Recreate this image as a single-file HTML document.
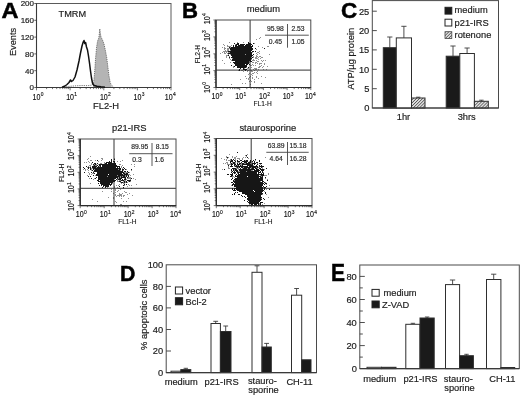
<!DOCTYPE html>
<html><head><meta charset="utf-8"><title>Figure</title>
<style>html,body{margin:0;padding:0;background:#fff;}svg{display:block;filter:blur(0.3px);font-family:"Liberation Sans",sans-serif;}</style>
</head><body>
<svg width="520" height="395" viewBox="0 0 520 395">
<rect width="520" height="395" fill="#fff"/>
<text x="1.5" y="18.3" font-size="22.5" text-anchor="start" font-weight="bold" fill="#000" stroke="#000" stroke-width="0.5" textLength="17" lengthAdjust="spacingAndGlyphs">A</text>
<path d="M93.0 87.5 L94.0 80.0 L94.8 70.0 L95.6 58.0 L96.6 47.0 L97.6 41.0 L98.8 38.0 L99.4 33.0 L99.8 28.8 L100.3 33.0 L101.0 37.0 L102.5 40.0 L104.0 44.0 L105.5 51.0 L106.8 58.0 L108.0 68.0 L109.0 76.0 L110.3 83.0 L112.0 87.5Z" fill="#b4b4b4" stroke="none"/>
<path d="M64 87 L70 86.3 L76 85.8 L82 85.5 L88 85.6 L92.5 85 L94.0 80.0 L94.8 70.0 L95.6 58.0 L96.6 47.0 L97.6 41.0 L98.8 38.0 L99.4 33.0 L99.8 28.8 L100.3 33.0 L101.0 37.0 L102.5 40.0 L104.0 44.0 L105.5 51.0 L106.8 58.0 L108.0 68.0 L109.0 76.0 L110.3 83.0 L113 87" fill="none" stroke="#555" stroke-width="0.8" stroke-dasharray="1.2 1"/>
<rect x="36.5" y="3.5" width="134.5" height="84.0" fill="none" stroke="#5a5a5a" stroke-width="1"/>
<line x1="36.5" y1="3.5" x2="36.5" y2="87.5" stroke="#3a3a3a" stroke-width="1.1"/>
<line x1="36.5" y1="87.5" x2="171.0" y2="87.5" stroke="#3a3a3a" stroke-width="1.1"/>
<path d="M62.0 87.3 L65.0 86.0 L67.0 84.5 L69.0 82.5 L70.5 80.0 L71.5 81.5 L73.0 80.5 L75.0 77.0 L77.0 70.0 L79.0 61.0 L80.5 53.0 L82.0 46.0 L83.2 42.0 L84.0 40.5 L84.8 43.5 L85.6 42.5 L86.5 47.0 L87.5 50.0 L88.5 56.0 L89.5 63.0 L90.5 71.0 L91.5 78.0 L92.5 83.0 L94.0 85.5 L97.0 86.3 L101.0 86.8 L105.0 87.2" fill="none" stroke="#111" stroke-width="1.5" stroke-linejoin="round"/>
<line x1="34.3" y1="3.5" x2="36.5" y2="3.5" stroke="#3a3a3a" stroke-width="0.8"/>
<text x="34.0" y="6.4" font-size="8" text-anchor="end" font-weight="normal" fill="#1c1c1c" stroke="#1c1c1c" stroke-width="0.18">200</text>
<line x1="34.3" y1="20.3" x2="36.5" y2="20.3" stroke="#3a3a3a" stroke-width="0.8"/>
<text x="34.0" y="23.2" font-size="8" text-anchor="end" font-weight="normal" fill="#1c1c1c" stroke="#1c1c1c" stroke-width="0.18">160</text>
<line x1="34.3" y1="37.1" x2="36.5" y2="37.1" stroke="#3a3a3a" stroke-width="0.8"/>
<text x="34.0" y="40.0" font-size="8" text-anchor="end" font-weight="normal" fill="#1c1c1c" stroke="#1c1c1c" stroke-width="0.18">120</text>
<line x1="34.3" y1="53.9" x2="36.5" y2="53.9" stroke="#3a3a3a" stroke-width="0.8"/>
<text x="34.0" y="56.8" font-size="8" text-anchor="end" font-weight="normal" fill="#1c1c1c" stroke="#1c1c1c" stroke-width="0.18">80</text>
<line x1="34.3" y1="70.7" x2="36.5" y2="70.7" stroke="#3a3a3a" stroke-width="0.8"/>
<text x="34.0" y="73.6" font-size="8" text-anchor="end" font-weight="normal" fill="#1c1c1c" stroke="#1c1c1c" stroke-width="0.18">40</text>
<line x1="34.3" y1="87.5" x2="36.5" y2="87.5" stroke="#3a3a3a" stroke-width="0.8"/>
<text x="34.0" y="90.4" font-size="8" text-anchor="end" font-weight="normal" fill="#1c1c1c" stroke="#1c1c1c" stroke-width="0.18">0</text>
<text x="15.8" y="42.0" font-size="9.2" text-anchor="middle" font-weight="normal" fill="#1c1c1c" transform="rotate(-90 15.8 42.0)" stroke="#1c1c1c" stroke-width="0.18">Events</text>
<line x1="36.5" y1="87.5" x2="36.5" y2="90.3" stroke="#3a3a3a" stroke-width="0.7"/>
<line x1="46.6" y1="87.5" x2="46.6" y2="89.1" stroke="#3a3a3a" stroke-width="0.7"/>
<line x1="52.5" y1="87.5" x2="52.5" y2="89.1" stroke="#3a3a3a" stroke-width="0.7"/>
<line x1="56.7" y1="87.5" x2="56.7" y2="89.1" stroke="#3a3a3a" stroke-width="0.7"/>
<line x1="60.0" y1="87.5" x2="60.0" y2="89.1" stroke="#3a3a3a" stroke-width="0.7"/>
<line x1="62.7" y1="87.5" x2="62.7" y2="89.1" stroke="#3a3a3a" stroke-width="0.7"/>
<line x1="64.9" y1="87.5" x2="64.9" y2="89.1" stroke="#3a3a3a" stroke-width="0.7"/>
<line x1="66.9" y1="87.5" x2="66.9" y2="89.1" stroke="#3a3a3a" stroke-width="0.7"/>
<line x1="68.6" y1="87.5" x2="68.6" y2="89.1" stroke="#3a3a3a" stroke-width="0.7"/>
<line x1="70.1" y1="87.5" x2="70.1" y2="90.3" stroke="#3a3a3a" stroke-width="0.7"/>
<line x1="80.2" y1="87.5" x2="80.2" y2="89.1" stroke="#3a3a3a" stroke-width="0.7"/>
<line x1="86.2" y1="87.5" x2="86.2" y2="89.1" stroke="#3a3a3a" stroke-width="0.7"/>
<line x1="90.4" y1="87.5" x2="90.4" y2="89.1" stroke="#3a3a3a" stroke-width="0.7"/>
<line x1="93.6" y1="87.5" x2="93.6" y2="89.1" stroke="#3a3a3a" stroke-width="0.7"/>
<line x1="96.3" y1="87.5" x2="96.3" y2="89.1" stroke="#3a3a3a" stroke-width="0.7"/>
<line x1="98.5" y1="87.5" x2="98.5" y2="89.1" stroke="#3a3a3a" stroke-width="0.7"/>
<line x1="100.5" y1="87.5" x2="100.5" y2="89.1" stroke="#3a3a3a" stroke-width="0.7"/>
<line x1="102.2" y1="87.5" x2="102.2" y2="89.1" stroke="#3a3a3a" stroke-width="0.7"/>
<line x1="103.8" y1="87.5" x2="103.8" y2="90.3" stroke="#3a3a3a" stroke-width="0.7"/>
<line x1="113.9" y1="87.5" x2="113.9" y2="89.1" stroke="#3a3a3a" stroke-width="0.7"/>
<line x1="119.8" y1="87.5" x2="119.8" y2="89.1" stroke="#3a3a3a" stroke-width="0.7"/>
<line x1="124.0" y1="87.5" x2="124.0" y2="89.1" stroke="#3a3a3a" stroke-width="0.7"/>
<line x1="127.3" y1="87.5" x2="127.3" y2="89.1" stroke="#3a3a3a" stroke-width="0.7"/>
<line x1="129.9" y1="87.5" x2="129.9" y2="89.1" stroke="#3a3a3a" stroke-width="0.7"/>
<line x1="132.2" y1="87.5" x2="132.2" y2="89.1" stroke="#3a3a3a" stroke-width="0.7"/>
<line x1="134.1" y1="87.5" x2="134.1" y2="89.1" stroke="#3a3a3a" stroke-width="0.7"/>
<line x1="135.8" y1="87.5" x2="135.8" y2="89.1" stroke="#3a3a3a" stroke-width="0.7"/>
<line x1="137.4" y1="87.5" x2="137.4" y2="90.3" stroke="#3a3a3a" stroke-width="0.7"/>
<line x1="147.5" y1="87.5" x2="147.5" y2="89.1" stroke="#3a3a3a" stroke-width="0.7"/>
<line x1="153.4" y1="87.5" x2="153.4" y2="89.1" stroke="#3a3a3a" stroke-width="0.7"/>
<line x1="157.6" y1="87.5" x2="157.6" y2="89.1" stroke="#3a3a3a" stroke-width="0.7"/>
<line x1="160.9" y1="87.5" x2="160.9" y2="89.1" stroke="#3a3a3a" stroke-width="0.7"/>
<line x1="163.5" y1="87.5" x2="163.5" y2="89.1" stroke="#3a3a3a" stroke-width="0.7"/>
<line x1="165.8" y1="87.5" x2="165.8" y2="89.1" stroke="#3a3a3a" stroke-width="0.7"/>
<line x1="167.7" y1="87.5" x2="167.7" y2="89.1" stroke="#3a3a3a" stroke-width="0.7"/>
<line x1="169.5" y1="87.5" x2="169.5" y2="89.1" stroke="#3a3a3a" stroke-width="0.7"/>
<line x1="171.0" y1="87.5" x2="171.0" y2="90.3" stroke="#3a3a3a" stroke-width="0.7"/>
<g transform="translate(36.5 99.5) scale(0.85 1)" fill="#111" stroke="#111" stroke-width="0.15"><text x="0" y="0" font-size="8.3" text-anchor="middle">10</text><text x="5.0" y="-3.5" font-size="5.8">0</text></g>
<g transform="translate(70.1 99.5) scale(0.85 1)" fill="#111" stroke="#111" stroke-width="0.15"><text x="0" y="0" font-size="8.3" text-anchor="middle">10</text><text x="5.0" y="-3.5" font-size="5.8">1</text></g>
<g transform="translate(103.8 99.5) scale(0.85 1)" fill="#111" stroke="#111" stroke-width="0.15"><text x="0" y="0" font-size="8.3" text-anchor="middle">10</text><text x="5.0" y="-3.5" font-size="5.8">2</text></g>
<g transform="translate(137.4 99.5) scale(0.85 1)" fill="#111" stroke="#111" stroke-width="0.15"><text x="0" y="0" font-size="8.3" text-anchor="middle">10</text><text x="5.0" y="-3.5" font-size="5.8">3</text></g>
<g transform="translate(168.7 99.5) scale(0.85 1)" fill="#111" stroke="#111" stroke-width="0.15"><text x="0" y="0" font-size="8.3" text-anchor="middle">10</text><text x="5.0" y="-3.5" font-size="5.8">4</text></g>
<text x="106.0" y="109.3" font-size="9.4" text-anchor="middle" font-weight="normal" fill="#1c1c1c" stroke="#1c1c1c" stroke-width="0.18">FL2-H</text>
<text x="58.6" y="17.2" font-size="9.2" text-anchor="start" font-weight="normal" fill="#1c1c1c" stroke="#1c1c1c" stroke-width="0.18">TMRM</text>
<text x="182.0" y="18.3" font-size="22.5" text-anchor="start" font-weight="bold" fill="#000" stroke="#000" stroke-width="0.5" textLength="16" lengthAdjust="spacingAndGlyphs">B</text>
<line x1="250.1" y1="20.0" x2="250.1" y2="87.5" stroke="#333" stroke-width="1"/>
<line x1="216.0" y1="70.1" x2="310.8" y2="70.1" stroke="#333" stroke-width="1"/>
<path d="M260 37.5h1M259 38.5h1M256 39.5h1M229 42.5h1M237 42.5h1M243 42.5h1M237 43.5h1M249 43.5h1M254 43.5h1M223 44.5h1M235 44.5h2M240 44.5h1M224 45.5h1M227 45.5h1M231 45.5h1M242 45.5h1M227 46.5h4M235 46.5h1M241 46.5h1M244 46.5h2M258 46.5h1M267 46.5h2M222 47.5h1M224 47.5h1M230 47.5h2M233 47.5h3M239 47.5h3M244 47.5h1M247 47.5h1M250 47.5h1M262 47.5h1M224 48.5h2M227 48.5h4M234 48.5h3M240 48.5h2M243 48.5h2M224 49.5h1M227 49.5h2M230 49.5h2M237 49.5h2M240 49.5h1M243 49.5h1M245 49.5h1M251 49.5h2M256 49.5h1M225 50.5h1M227 50.5h2M230 50.5h1M238 50.5h2M242 50.5h5M250 50.5h1M223 51.5h5M230 51.5h1M234 51.5h1M243 51.5h1M247 51.5h1M259 51.5h1M222 52.5h1M224 52.5h1M226 52.5h1M228 52.5h7M237 52.5h1M249 52.5h1M252 52.5h1M257 52.5h2M220 53.5h1M224 53.5h2M227 53.5h3M235 53.5h1M239 53.5h1M242 53.5h1M251 53.5h1M256 53.5h1M259 53.5h1M228 54.5h1M230 54.5h3M234 54.5h1M236 54.5h1M238 54.5h2M242 54.5h4M247 54.5h1M250 54.5h1M257 54.5h1M269 54.5h1M226 55.5h3M232 55.5h2M243 55.5h1M246 55.5h2M256 55.5h1M226 56.5h1M229 56.5h1M232 56.5h2M235 56.5h1M239 56.5h2M246 56.5h1M253 56.5h1M256 56.5h2M259 56.5h2M226 57.5h1M234 57.5h2M237 57.5h2M246 57.5h1M248 57.5h1M251 57.5h3M255 57.5h2M258 57.5h1M261 57.5h2M229 58.5h1M232 58.5h1M234 58.5h3M241 58.5h1M244 58.5h2M255 58.5h3M260 58.5h1M230 59.5h1M234 59.5h1M238 59.5h1M241 59.5h1M243 59.5h1M245 59.5h1M251 59.5h1M253 59.5h1M258 59.5h1M222 60.5h1M231 60.5h2M235 60.5h3M240 60.5h2M245 60.5h1M247 60.5h1M252 60.5h3M256 60.5h1M261 60.5h1M263 60.5h1M265 60.5h1M241 61.5h1M243 61.5h2M246 61.5h1M249 61.5h1M257 61.5h2M262 61.5h1M230 62.5h1M235 62.5h2M243 62.5h1M247 62.5h1M249 62.5h1M252 62.5h2M255 62.5h2M224 63.5h1M237 63.5h1M240 63.5h1M245 63.5h1M255 63.5h1M257 63.5h1M259 63.5h3M264 63.5h1M236 64.5h2M239 64.5h1M247 64.5h1M252 64.5h1M259 64.5h1M264 64.5h1M238 65.5h1M244 65.5h2M250 65.5h2M253 65.5h1M255 65.5h1M261 65.5h1M233 66.5h1M242 66.5h1M259 66.5h2M263 66.5h1M267 66.5h1M233 67.5h1M238 67.5h1M246 67.5h1M248 67.5h1M251 67.5h1M258 67.5h2M262 67.5h1M244 68.5h1M247 68.5h2M254 68.5h3M253 69.5h1M255 69.5h2M258 69.5h1M263 69.5h1M266 69.5h1M238 70.5h1M241 70.5h2M247 70.5h2M251 70.5h1M254 70.5h1M243 71.5h1M247 71.5h1M251 71.5h2M257 71.5h1M254 72.5h1M256 72.5h1M249 73.5h1M252 73.5h2M257 73.5h1M248 74.5h1M251 74.5h1M252 75.5h1M245 76.5h1M250 76.5h1M256 76.5h1M261 76.5h1M249 77.5h1M252 77.5h1M256 77.5h1M265 77.5h1M246 78.5h1M248 78.5h1M252 78.5h1M258 78.5h1M240 79.5h1M248 79.5h1M254 79.5h1M250 80.5h1M249 81.5h1M251 81.5h1M254 81.5h1M254 82.5h1M242 83.5h1M245 83.5h1M261 83.5h1M231 84.5h1M250 84.5h1" stroke="#222" stroke-opacity="0.5" stroke-width="1" fill="none"/>
<path d="M248 42.5h1M234 43.5h1M237 43.5h2M248 43.5h1M253 43.5h1M236 44.5h3M240 44.5h3M247 44.5h2M250 44.5h2M236 45.5h1M238 45.5h1M240 45.5h3M247 45.5h2M233 46.5h1M235 46.5h1M238 46.5h1M240 46.5h2M243 46.5h1M245 46.5h1M247 46.5h2M251 46.5h2M229 47.5h1M231 47.5h3M235 47.5h1M238 47.5h2M243 47.5h1M246 47.5h3M250 47.5h1M230 48.5h2M236 48.5h1M239 48.5h1M242 48.5h1M245 48.5h1M248 48.5h2M252 48.5h1M255 48.5h1M264 48.5h1M230 49.5h1M233 49.5h1M239 49.5h1M242 49.5h1M244 49.5h3M249 49.5h1M231 50.5h3M236 50.5h1M239 50.5h3M249 50.5h3M228 51.5h4M236 51.5h1M240 51.5h1M244 51.5h2M253 51.5h1M255 51.5h1M232 52.5h1M236 52.5h2M239 52.5h2M243 52.5h2M247 52.5h2M250 52.5h2M228 53.5h5M234 53.5h1M237 53.5h1M240 53.5h1M244 53.5h2M247 53.5h1M250 53.5h2M232 54.5h1M234 54.5h1M242 54.5h1M246 54.5h1M249 54.5h1M253 54.5h1M228 55.5h1M231 55.5h1M234 55.5h2M241 55.5h1M247 55.5h1M250 55.5h1M233 56.5h1M236 56.5h1M249 56.5h3M229 57.5h1M231 57.5h2M234 57.5h1M241 57.5h1M244 57.5h1M249 57.5h1M252 57.5h1M238 58.5h1M246 58.5h1M249 58.5h1M251 58.5h1M232 59.5h2M237 59.5h1M239 59.5h1M246 59.5h1M248 59.5h1M232 60.5h1M234 60.5h1M236 60.5h1M238 60.5h1M240 60.5h1M242 60.5h1M245 60.5h2M248 60.5h1M250 60.5h1M240 61.5h1M244 61.5h2M247 61.5h2M250 61.5h2M233 62.5h1M235 62.5h2M245 62.5h1M247 62.5h1M234 63.5h2M240 63.5h1M247 63.5h2M236 64.5h1M241 64.5h1M243 64.5h1M246 64.5h1M249 64.5h1M231 65.5h1M236 65.5h1M238 65.5h1M243 65.5h2M246 65.5h1M234 66.5h1M237 66.5h1M240 66.5h1M243 66.5h1M245 66.5h1M237 67.5h3M242 67.5h1M245 67.5h1M248 67.5h1M240 68.5h1M243 68.5h1M243 69.5h4M239 70.5h1" stroke="#161616" stroke-opacity="1" stroke-width="1" fill="none"/>
<path d="M249 43.5h2M243 44.5h2M246 44.5h5M233 45.5h1M235 45.5h1M239 45.5h2M242 45.5h2M245 45.5h6M252 45.5h1M233 46.5h1M236 46.5h16M232 47.5h20M230 48.5h22M230 49.5h16M247 49.5h6M231 50.5h21M231 51.5h20M252 51.5h2M230 52.5h22M231 53.5h21M231 54.5h14M246 54.5h6M253 54.5h1M231 55.5h22M232 56.5h20M232 57.5h19M233 58.5h16M250 58.5h2M233 59.5h18M233 60.5h17M235 61.5h14M234 62.5h15M235 63.5h14M235 64.5h10M246 64.5h2M235 65.5h12M237 66.5h10M237 67.5h8M243 68.5h1M239 69.5h1M245 69.5h1M245 70.5h1" stroke="#161616" stroke-width="1" fill="none"/>
<rect x="216.0" y="20.0" width="94.8" height="67.5" fill="none" stroke="#4a4a4a" stroke-width="1"/>
<line x1="216.0" y1="20.0" x2="216.0" y2="87.5" stroke="#2a2a2a" stroke-width="1.3"/>
<line x1="216.0" y1="87.5" x2="310.8" y2="87.5" stroke="#2a2a2a" stroke-width="1.2"/>
<line x1="216.0" y1="87.5" x2="216.0" y2="90.1" stroke="#3a3a3a" stroke-width="0.7"/>
<line x1="223.1" y1="87.5" x2="223.1" y2="89.1" stroke="#3a3a3a" stroke-width="0.7"/>
<line x1="227.3" y1="87.5" x2="227.3" y2="89.1" stroke="#3a3a3a" stroke-width="0.7"/>
<line x1="230.3" y1="87.5" x2="230.3" y2="89.1" stroke="#3a3a3a" stroke-width="0.7"/>
<line x1="232.6" y1="87.5" x2="232.6" y2="89.1" stroke="#3a3a3a" stroke-width="0.7"/>
<line x1="234.4" y1="87.5" x2="234.4" y2="89.1" stroke="#3a3a3a" stroke-width="0.7"/>
<line x1="236.0" y1="87.5" x2="236.0" y2="89.1" stroke="#3a3a3a" stroke-width="0.7"/>
<line x1="237.4" y1="87.5" x2="237.4" y2="89.1" stroke="#3a3a3a" stroke-width="0.7"/>
<line x1="238.6" y1="87.5" x2="238.6" y2="89.1" stroke="#3a3a3a" stroke-width="0.7"/>
<line x1="239.7" y1="87.5" x2="239.7" y2="90.1" stroke="#3a3a3a" stroke-width="0.7"/>
<line x1="246.8" y1="87.5" x2="246.8" y2="89.1" stroke="#3a3a3a" stroke-width="0.7"/>
<line x1="251.0" y1="87.5" x2="251.0" y2="89.1" stroke="#3a3a3a" stroke-width="0.7"/>
<line x1="254.0" y1="87.5" x2="254.0" y2="89.1" stroke="#3a3a3a" stroke-width="0.7"/>
<line x1="256.3" y1="87.5" x2="256.3" y2="89.1" stroke="#3a3a3a" stroke-width="0.7"/>
<line x1="258.1" y1="87.5" x2="258.1" y2="89.1" stroke="#3a3a3a" stroke-width="0.7"/>
<line x1="259.7" y1="87.5" x2="259.7" y2="89.1" stroke="#3a3a3a" stroke-width="0.7"/>
<line x1="261.1" y1="87.5" x2="261.1" y2="89.1" stroke="#3a3a3a" stroke-width="0.7"/>
<line x1="262.3" y1="87.5" x2="262.3" y2="89.1" stroke="#3a3a3a" stroke-width="0.7"/>
<line x1="263.4" y1="87.5" x2="263.4" y2="90.1" stroke="#3a3a3a" stroke-width="0.7"/>
<line x1="270.5" y1="87.5" x2="270.5" y2="89.1" stroke="#3a3a3a" stroke-width="0.7"/>
<line x1="274.7" y1="87.5" x2="274.7" y2="89.1" stroke="#3a3a3a" stroke-width="0.7"/>
<line x1="277.7" y1="87.5" x2="277.7" y2="89.1" stroke="#3a3a3a" stroke-width="0.7"/>
<line x1="280.0" y1="87.5" x2="280.0" y2="89.1" stroke="#3a3a3a" stroke-width="0.7"/>
<line x1="281.8" y1="87.5" x2="281.8" y2="89.1" stroke="#3a3a3a" stroke-width="0.7"/>
<line x1="283.4" y1="87.5" x2="283.4" y2="89.1" stroke="#3a3a3a" stroke-width="0.7"/>
<line x1="284.8" y1="87.5" x2="284.8" y2="89.1" stroke="#3a3a3a" stroke-width="0.7"/>
<line x1="286.0" y1="87.5" x2="286.0" y2="89.1" stroke="#3a3a3a" stroke-width="0.7"/>
<line x1="287.1" y1="87.5" x2="287.1" y2="90.1" stroke="#3a3a3a" stroke-width="0.7"/>
<line x1="294.2" y1="87.5" x2="294.2" y2="89.1" stroke="#3a3a3a" stroke-width="0.7"/>
<line x1="298.4" y1="87.5" x2="298.4" y2="89.1" stroke="#3a3a3a" stroke-width="0.7"/>
<line x1="301.4" y1="87.5" x2="301.4" y2="89.1" stroke="#3a3a3a" stroke-width="0.7"/>
<line x1="303.7" y1="87.5" x2="303.7" y2="89.1" stroke="#3a3a3a" stroke-width="0.7"/>
<line x1="305.5" y1="87.5" x2="305.5" y2="89.1" stroke="#3a3a3a" stroke-width="0.7"/>
<line x1="307.1" y1="87.5" x2="307.1" y2="89.1" stroke="#3a3a3a" stroke-width="0.7"/>
<line x1="308.5" y1="87.5" x2="308.5" y2="89.1" stroke="#3a3a3a" stroke-width="0.7"/>
<line x1="309.7" y1="87.5" x2="309.7" y2="89.1" stroke="#3a3a3a" stroke-width="0.7"/>
<line x1="310.8" y1="87.5" x2="310.8" y2="90.1" stroke="#3a3a3a" stroke-width="0.7"/>
<line x1="216.0" y1="87.5" x2="213.4" y2="87.5" stroke="#3a3a3a" stroke-width="0.7"/>
<line x1="216.0" y1="82.4" x2="214.4" y2="82.4" stroke="#3a3a3a" stroke-width="0.7"/>
<line x1="216.0" y1="79.4" x2="214.4" y2="79.4" stroke="#3a3a3a" stroke-width="0.7"/>
<line x1="216.0" y1="77.3" x2="214.4" y2="77.3" stroke="#3a3a3a" stroke-width="0.7"/>
<line x1="216.0" y1="75.7" x2="214.4" y2="75.7" stroke="#3a3a3a" stroke-width="0.7"/>
<line x1="216.0" y1="74.4" x2="214.4" y2="74.4" stroke="#3a3a3a" stroke-width="0.7"/>
<line x1="216.0" y1="73.2" x2="214.4" y2="73.2" stroke="#3a3a3a" stroke-width="0.7"/>
<line x1="216.0" y1="72.3" x2="214.4" y2="72.3" stroke="#3a3a3a" stroke-width="0.7"/>
<line x1="216.0" y1="71.4" x2="214.4" y2="71.4" stroke="#3a3a3a" stroke-width="0.7"/>
<line x1="216.0" y1="70.6" x2="213.4" y2="70.6" stroke="#3a3a3a" stroke-width="0.7"/>
<line x1="216.0" y1="65.5" x2="214.4" y2="65.5" stroke="#3a3a3a" stroke-width="0.7"/>
<line x1="216.0" y1="62.6" x2="214.4" y2="62.6" stroke="#3a3a3a" stroke-width="0.7"/>
<line x1="216.0" y1="60.5" x2="214.4" y2="60.5" stroke="#3a3a3a" stroke-width="0.7"/>
<line x1="216.0" y1="58.8" x2="214.4" y2="58.8" stroke="#3a3a3a" stroke-width="0.7"/>
<line x1="216.0" y1="57.5" x2="214.4" y2="57.5" stroke="#3a3a3a" stroke-width="0.7"/>
<line x1="216.0" y1="56.4" x2="214.4" y2="56.4" stroke="#3a3a3a" stroke-width="0.7"/>
<line x1="216.0" y1="55.4" x2="214.4" y2="55.4" stroke="#3a3a3a" stroke-width="0.7"/>
<line x1="216.0" y1="54.5" x2="214.4" y2="54.5" stroke="#3a3a3a" stroke-width="0.7"/>
<line x1="216.0" y1="53.8" x2="213.4" y2="53.8" stroke="#3a3a3a" stroke-width="0.7"/>
<line x1="216.0" y1="48.7" x2="214.4" y2="48.7" stroke="#3a3a3a" stroke-width="0.7"/>
<line x1="216.0" y1="45.7" x2="214.4" y2="45.7" stroke="#3a3a3a" stroke-width="0.7"/>
<line x1="216.0" y1="43.6" x2="214.4" y2="43.6" stroke="#3a3a3a" stroke-width="0.7"/>
<line x1="216.0" y1="42.0" x2="214.4" y2="42.0" stroke="#3a3a3a" stroke-width="0.7"/>
<line x1="216.0" y1="40.6" x2="214.4" y2="40.6" stroke="#3a3a3a" stroke-width="0.7"/>
<line x1="216.0" y1="39.5" x2="214.4" y2="39.5" stroke="#3a3a3a" stroke-width="0.7"/>
<line x1="216.0" y1="38.5" x2="214.4" y2="38.5" stroke="#3a3a3a" stroke-width="0.7"/>
<line x1="216.0" y1="37.6" x2="214.4" y2="37.6" stroke="#3a3a3a" stroke-width="0.7"/>
<line x1="216.0" y1="36.9" x2="213.4" y2="36.9" stroke="#3a3a3a" stroke-width="0.7"/>
<line x1="216.0" y1="31.8" x2="214.4" y2="31.8" stroke="#3a3a3a" stroke-width="0.7"/>
<line x1="216.0" y1="28.8" x2="214.4" y2="28.8" stroke="#3a3a3a" stroke-width="0.7"/>
<line x1="216.0" y1="26.7" x2="214.4" y2="26.7" stroke="#3a3a3a" stroke-width="0.7"/>
<line x1="216.0" y1="25.1" x2="214.4" y2="25.1" stroke="#3a3a3a" stroke-width="0.7"/>
<line x1="216.0" y1="23.7" x2="214.4" y2="23.7" stroke="#3a3a3a" stroke-width="0.7"/>
<line x1="216.0" y1="22.6" x2="214.4" y2="22.6" stroke="#3a3a3a" stroke-width="0.7"/>
<line x1="216.0" y1="21.6" x2="214.4" y2="21.6" stroke="#3a3a3a" stroke-width="0.7"/>
<line x1="216.0" y1="20.8" x2="214.4" y2="20.8" stroke="#3a3a3a" stroke-width="0.7"/>
<line x1="216.0" y1="20.0" x2="213.4" y2="20.0" stroke="#3a3a3a" stroke-width="0.7"/>
<g transform="translate(215.5 99.3) scale(0.85 1)" fill="#111" stroke="#111" stroke-width="0.15"><text x="0" y="0" font-size="8.3" text-anchor="middle">10</text><text x="5.0" y="-3.5" font-size="5.8">0</text></g>
<g transform="translate(209.8 89.1) rotate(-90) scale(0.85 1)" fill="#111" stroke="#111" stroke-width="0.15"><text x="0" y="0" font-size="8.3" text-anchor="middle">10</text><text x="5.0" y="-3.5" font-size="5.8">0</text></g>
<g transform="translate(239.2 99.3) scale(0.85 1)" fill="#111" stroke="#111" stroke-width="0.15"><text x="0" y="0" font-size="8.3" text-anchor="middle">10</text><text x="5.0" y="-3.5" font-size="5.8">1</text></g>
<g transform="translate(209.8 70.9) rotate(-90) scale(0.85 1)" fill="#111" stroke="#111" stroke-width="0.15"><text x="0" y="0" font-size="8.3" text-anchor="middle">10</text><text x="5.0" y="-3.5" font-size="5.8">1</text></g>
<g transform="translate(262.9 99.3) scale(0.85 1)" fill="#111" stroke="#111" stroke-width="0.15"><text x="0" y="0" font-size="8.3" text-anchor="middle">10</text><text x="5.0" y="-3.5" font-size="5.8">2</text></g>
<g transform="translate(209.8 54.0) rotate(-90) scale(0.85 1)" fill="#111" stroke="#111" stroke-width="0.15"><text x="0" y="0" font-size="8.3" text-anchor="middle">10</text><text x="5.0" y="-3.5" font-size="5.8">2</text></g>
<g transform="translate(286.6 99.3) scale(0.85 1)" fill="#111" stroke="#111" stroke-width="0.15"><text x="0" y="0" font-size="8.3" text-anchor="middle">10</text><text x="5.0" y="-3.5" font-size="5.8">3</text></g>
<g transform="translate(209.8 37.2) rotate(-90) scale(0.85 1)" fill="#111" stroke="#111" stroke-width="0.15"><text x="0" y="0" font-size="8.3" text-anchor="middle">10</text><text x="5.0" y="-3.5" font-size="5.8">3</text></g>
<g transform="translate(308.8 99.3) scale(0.85 1)" fill="#111" stroke="#111" stroke-width="0.15"><text x="0" y="0" font-size="8.3" text-anchor="middle">10</text><text x="5.0" y="-3.5" font-size="5.8">4</text></g>
<g transform="translate(209.8 20.3) rotate(-90) scale(0.85 1)" fill="#111" stroke="#111" stroke-width="0.15"><text x="0" y="0" font-size="8.3" text-anchor="middle">10</text><text x="5.0" y="-3.5" font-size="5.8">4</text></g>
<g transform="translate(262.6 105.8) scale(0.87 1)" fill="#111" stroke="#111" stroke-width="0.12"><text x="0" y="0" font-size="7.6" text-anchor="middle">FL1-H</text></g>
<g transform="translate(200.2 54.2) rotate(-90) scale(0.87 1)" fill="#111" stroke="#111" stroke-width="0.12"><text x="0" y="0" font-size="7.6" text-anchor="middle">FL2-H</text></g>
<text x="263.4" y="11.9" font-size="9.4" text-anchor="middle" font-weight="normal" fill="#1c1c1c" stroke="#1c1c1c" stroke-width="0.18">medium</text>
<line x1="265.0" y1="35.2" x2="308.8" y2="35.2" stroke="#444" stroke-width="0.9"/>
<line x1="287.5" y1="24.0" x2="287.5" y2="47.7" stroke="#444" stroke-width="0.9"/>
<text x="275.4" y="30.9" font-size="6.75" text-anchor="middle" font-weight="normal" fill="#2a2a2a" stroke="#2a2a2a" stroke-width="0.18">95.98</text>
<text x="298.0" y="30.9" font-size="6.75" text-anchor="middle" font-weight="normal" fill="#2a2a2a" stroke="#2a2a2a" stroke-width="0.18">2.53</text>
<text x="275.4" y="43.8" font-size="6.75" text-anchor="middle" font-weight="normal" fill="#2a2a2a" stroke="#2a2a2a" stroke-width="0.18">0.45</text>
<text x="298.0" y="43.8" font-size="6.75" text-anchor="middle" font-weight="normal" fill="#2a2a2a" stroke="#2a2a2a" stroke-width="0.18">1.05</text>
<line x1="114.0" y1="139.0" x2="114.0" y2="205.6" stroke="#333" stroke-width="1"/>
<line x1="80.2" y1="188.3" x2="176.0" y2="188.3" stroke="#333" stroke-width="1"/>
<path d="M90 156.5h1M88 158.5h1M101 158.5h2M114 158.5h1M87 159.5h1M102 159.5h1M111 159.5h1M90 160.5h2M95 160.5h1M101 160.5h1M122 160.5h1M88 161.5h1M98 161.5h1M109 161.5h1M113 161.5h1M117 161.5h1M120 161.5h1M84 162.5h1M86 162.5h1M89 162.5h1M104 162.5h1M91 163.5h1M97 163.5h1M100 163.5h2M104 163.5h1M106 163.5h1M112 163.5h3M91 164.5h1M93 164.5h2M96 164.5h1M98 164.5h2M101 164.5h1M103 164.5h1M106 164.5h1M110 164.5h1M119 164.5h2M131 164.5h1M134 164.5h1M89 165.5h2M93 165.5h4M102 165.5h2M107 165.5h1M122 165.5h1M80 166.5h1M88 166.5h1M90 166.5h1M92 166.5h2M95 166.5h2M99 166.5h1M103 166.5h1M107 166.5h2M110 166.5h2M113 166.5h1M121 166.5h1M134 166.5h1M87 167.5h4M92 167.5h2M95 167.5h3M101 167.5h2M104 167.5h1M106 167.5h1M113 167.5h3M117 167.5h1M121 167.5h1M123 167.5h1M90 168.5h3M94 168.5h1M96 168.5h1M98 168.5h2M109 168.5h1M112 168.5h4M119 168.5h2M122 168.5h1M83 169.5h1M85 169.5h1M87 169.5h1M91 169.5h1M93 169.5h6M102 169.5h1M108 169.5h1M110 169.5h4M117 169.5h3M126 169.5h1M85 170.5h1M88 170.5h1M91 170.5h2M94 170.5h2M99 170.5h2M102 170.5h1M109 170.5h7M118 170.5h3M123 170.5h1M131 170.5h1M93 171.5h3M97 171.5h2M101 171.5h3M105 171.5h1M110 171.5h1M115 171.5h1M118 171.5h4M88 172.5h1M91 172.5h1M93 172.5h1M101 172.5h3M107 172.5h5M115 172.5h15M89 173.5h1M92 173.5h2M99 173.5h2M102 173.5h1M104 173.5h1M106 173.5h1M110 173.5h4M117 173.5h1M119 173.5h1M121 173.5h1M124 173.5h2M89 174.5h1M91 174.5h1M96 174.5h1M98 174.5h1M100 174.5h1M103 174.5h3M107 174.5h1M109 174.5h1M112 174.5h1M114 174.5h1M116 174.5h2M119 174.5h5M126 174.5h4M133 174.5h1M87 175.5h1M95 175.5h1M102 175.5h1M105 175.5h5M115 175.5h1M117 175.5h1M119 175.5h3M123 175.5h1M125 175.5h4M130 175.5h1M99 176.5h1M103 176.5h1M105 176.5h3M114 176.5h1M116 176.5h1M118 176.5h8M128 176.5h1M96 177.5h1M102 177.5h2M108 177.5h1M113 177.5h2M117 177.5h2M120 177.5h4M127 177.5h4M89 178.5h1M94 178.5h1M98 178.5h1M106 178.5h3M114 178.5h1M117 178.5h2M121 178.5h1M124 178.5h1M127 178.5h5M133 178.5h1M93 179.5h1M104 179.5h1M111 179.5h1M117 179.5h1M119 179.5h1M122 179.5h1M125 179.5h2M130 179.5h1M135 179.5h1M106 180.5h1M109 180.5h1M112 180.5h2M117 180.5h1M119 180.5h2M122 180.5h1M124 180.5h2M98 181.5h1M117 181.5h2M123 181.5h4M128 181.5h1M130 181.5h1M105 182.5h1M120 182.5h1M123 182.5h3M127 182.5h1M90 183.5h1M101 183.5h1M112 183.5h1M121 183.5h1M123 183.5h2M103 184.5h1M105 184.5h1M108 184.5h1M119 184.5h1M124 184.5h1M128 184.5h1M136 184.5h1M116 185.5h1M118 185.5h1M123 185.5h2M129 185.5h1M131 185.5h1M114 186.5h1M127 186.5h1M107 187.5h1M114 187.5h1M117 187.5h1M118 188.5h2M123 188.5h1M131 188.5h1M111 189.5h1M115 189.5h1M120 189.5h1M115 190.5h1M118 190.5h1M102 191.5h1M111 191.5h1M117 191.5h1M124 191.5h1M115 192.5h1M125 192.5h2M113 193.5h1M119 193.5h1M122 193.5h1M129 193.5h1M115 194.5h1M119 194.5h3M127 194.5h1M115 195.5h1M117 195.5h5M123 195.5h2M132 195.5h1M116 196.5h1M119 196.5h1M121 196.5h1M123 196.5h1M108 197.5h1M113 197.5h1M113 198.5h1M121 198.5h1M128 198.5h1M92 199.5h1M97 201.5h1M115 201.5h1M123 201.5h1M126 201.5h1M116 202.5h1M120 204.5h2" stroke="#222" stroke-opacity="0.5" stroke-width="1" fill="none"/>
<path d="M111 159.5h1M114 159.5h1M97 160.5h1M111 160.5h1M109 161.5h1M111 161.5h1M113 161.5h2M92 162.5h1M106 162.5h4M114 162.5h1M94 163.5h2M97 163.5h1M105 163.5h1M108 163.5h1M113 163.5h3M93 164.5h1M95 164.5h1M99 164.5h5M107 164.5h3M111 164.5h3M115 164.5h1M94 165.5h1M97 165.5h1M99 165.5h2M102 165.5h2M105 165.5h4M110 165.5h1M112 165.5h4M86 166.5h1M92 166.5h5M98 166.5h1M102 166.5h3M107 166.5h1M112 166.5h1M114 166.5h6M83 167.5h1M88 167.5h1M90 167.5h1M92 167.5h4M97 167.5h4M102 167.5h1M104 167.5h2M107 167.5h1M110 167.5h1M113 167.5h1M115 167.5h1M117 167.5h1M119 167.5h1M123 167.5h1M84 168.5h1M88 168.5h1M90 168.5h1M93 168.5h6M101 168.5h3M105 168.5h2M108 168.5h1M110 168.5h1M114 168.5h1M117 168.5h1M119 168.5h2M124 168.5h1M90 169.5h1M93 169.5h1M95 169.5h4M101 169.5h2M104 169.5h2M107 169.5h3M112 169.5h2M115 169.5h3M119 169.5h2M122 169.5h2M125 169.5h1M131 169.5h1M92 170.5h1M94 170.5h4M100 170.5h2M103 170.5h1M108 170.5h1M110 170.5h1M115 170.5h2M118 170.5h2M122 170.5h1M94 171.5h6M101 171.5h1M103 171.5h1M108 171.5h1M112 171.5h1M115 171.5h8M124 171.5h2M127 171.5h1M84 172.5h1M91 172.5h1M93 172.5h1M97 172.5h7M106 172.5h1M108 172.5h1M111 172.5h1M114 172.5h1M116 172.5h8M128 172.5h1M94 173.5h1M97 173.5h1M99 173.5h2M104 173.5h1M107 173.5h1M110 173.5h2M113 173.5h1M116 173.5h6M123 173.5h2M126 173.5h2M96 174.5h3M100 174.5h1M105 174.5h2M112 174.5h1M114 174.5h2M117 174.5h6M124 174.5h4M93 175.5h1M98 175.5h2M101 175.5h1M103 175.5h1M105 175.5h2M110 175.5h3M114 175.5h3M118 175.5h7M126 175.5h1M128 175.5h1M88 176.5h1M90 176.5h1M98 176.5h2M101 176.5h1M106 176.5h1M112 176.5h2M117 176.5h3M121 176.5h1M123 176.5h2M126 176.5h1M128 176.5h1M96 177.5h1M98 177.5h3M102 177.5h3M108 177.5h2M111 177.5h1M114 177.5h1M116 177.5h2M119 177.5h1M121 177.5h5M127 177.5h1M91 178.5h1M95 178.5h1M98 178.5h1M101 178.5h1M103 178.5h2M107 178.5h1M109 178.5h2M113 178.5h1M115 178.5h1M117 178.5h1M119 178.5h3M125 178.5h1M131 178.5h1M98 179.5h1M101 179.5h1M105 179.5h1M110 179.5h1M112 179.5h2M118 179.5h3M122 179.5h1M124 179.5h2M97 180.5h2M111 180.5h1M113 180.5h3M121 180.5h3M127 180.5h4M98 181.5h2M101 181.5h1M103 181.5h1M105 181.5h1M108 181.5h1M110 181.5h5M119 181.5h2M124 181.5h1M126 181.5h1M129 181.5h1M100 182.5h1M103 182.5h2M108 182.5h1M111 182.5h1M121 182.5h2M124 182.5h1M126 182.5h1M98 183.5h1M101 183.5h1M105 183.5h3M111 183.5h1M103 184.5h1M109 184.5h2M124 184.5h1M126 184.5h1M99 185.5h1M101 185.5h1M103 185.5h4M110 185.5h1M123 185.5h1M105 186.5h1M107 186.5h2M119 186.5h1M102 187.5h1M105 187.5h1M123 187.5h1" stroke="#161616" stroke-opacity="1" stroke-width="1" fill="none"/>
<path d="M113 161.5h1M109 162.5h3M106 163.5h1M109 163.5h7M103 164.5h12M102 165.5h15M100 166.5h1M102 166.5h14M99 167.5h17M117 167.5h1M97 168.5h20M118 168.5h1M97 169.5h21M97 170.5h21M97 171.5h21M120 171.5h1M97 172.5h21M97 173.5h22M96 174.5h1M98 174.5h10M109 174.5h10M96 175.5h21M99 176.5h8M108 176.5h10M99 177.5h18M99 178.5h17M99 179.5h15M116 179.5h1M100 180.5h13M100 181.5h12M113 181.5h1M100 182.5h13M100 183.5h10M101 184.5h9M111 184.5h1M101 185.5h1M103 185.5h6M103 186.5h1M105 186.5h2" stroke="#161616" stroke-width="1" fill="none"/>
<rect x="80.2" y="139.0" width="95.8" height="66.6" fill="none" stroke="#4a4a4a" stroke-width="1"/>
<line x1="80.2" y1="139.0" x2="80.2" y2="205.6" stroke="#2a2a2a" stroke-width="1.3"/>
<line x1="80.2" y1="205.6" x2="176.0" y2="205.6" stroke="#2a2a2a" stroke-width="1.2"/>
<line x1="80.2" y1="205.6" x2="80.2" y2="208.2" stroke="#3a3a3a" stroke-width="0.7"/>
<line x1="87.4" y1="205.6" x2="87.4" y2="207.2" stroke="#3a3a3a" stroke-width="0.7"/>
<line x1="91.6" y1="205.6" x2="91.6" y2="207.2" stroke="#3a3a3a" stroke-width="0.7"/>
<line x1="94.6" y1="205.6" x2="94.6" y2="207.2" stroke="#3a3a3a" stroke-width="0.7"/>
<line x1="96.9" y1="205.6" x2="96.9" y2="207.2" stroke="#3a3a3a" stroke-width="0.7"/>
<line x1="98.8" y1="205.6" x2="98.8" y2="207.2" stroke="#3a3a3a" stroke-width="0.7"/>
<line x1="100.4" y1="205.6" x2="100.4" y2="207.2" stroke="#3a3a3a" stroke-width="0.7"/>
<line x1="101.8" y1="205.6" x2="101.8" y2="207.2" stroke="#3a3a3a" stroke-width="0.7"/>
<line x1="103.1" y1="205.6" x2="103.1" y2="207.2" stroke="#3a3a3a" stroke-width="0.7"/>
<line x1="104.2" y1="205.6" x2="104.2" y2="208.2" stroke="#3a3a3a" stroke-width="0.7"/>
<line x1="111.4" y1="205.6" x2="111.4" y2="207.2" stroke="#3a3a3a" stroke-width="0.7"/>
<line x1="115.6" y1="205.6" x2="115.6" y2="207.2" stroke="#3a3a3a" stroke-width="0.7"/>
<line x1="118.6" y1="205.6" x2="118.6" y2="207.2" stroke="#3a3a3a" stroke-width="0.7"/>
<line x1="120.9" y1="205.6" x2="120.9" y2="207.2" stroke="#3a3a3a" stroke-width="0.7"/>
<line x1="122.8" y1="205.6" x2="122.8" y2="207.2" stroke="#3a3a3a" stroke-width="0.7"/>
<line x1="124.4" y1="205.6" x2="124.4" y2="207.2" stroke="#3a3a3a" stroke-width="0.7"/>
<line x1="125.8" y1="205.6" x2="125.8" y2="207.2" stroke="#3a3a3a" stroke-width="0.7"/>
<line x1="127.0" y1="205.6" x2="127.0" y2="207.2" stroke="#3a3a3a" stroke-width="0.7"/>
<line x1="128.1" y1="205.6" x2="128.1" y2="208.2" stroke="#3a3a3a" stroke-width="0.7"/>
<line x1="135.3" y1="205.6" x2="135.3" y2="207.2" stroke="#3a3a3a" stroke-width="0.7"/>
<line x1="139.5" y1="205.6" x2="139.5" y2="207.2" stroke="#3a3a3a" stroke-width="0.7"/>
<line x1="142.5" y1="205.6" x2="142.5" y2="207.2" stroke="#3a3a3a" stroke-width="0.7"/>
<line x1="144.8" y1="205.6" x2="144.8" y2="207.2" stroke="#3a3a3a" stroke-width="0.7"/>
<line x1="146.7" y1="205.6" x2="146.7" y2="207.2" stroke="#3a3a3a" stroke-width="0.7"/>
<line x1="148.3" y1="205.6" x2="148.3" y2="207.2" stroke="#3a3a3a" stroke-width="0.7"/>
<line x1="149.7" y1="205.6" x2="149.7" y2="207.2" stroke="#3a3a3a" stroke-width="0.7"/>
<line x1="151.0" y1="205.6" x2="151.0" y2="207.2" stroke="#3a3a3a" stroke-width="0.7"/>
<line x1="152.1" y1="205.6" x2="152.1" y2="208.2" stroke="#3a3a3a" stroke-width="0.7"/>
<line x1="159.3" y1="205.6" x2="159.3" y2="207.2" stroke="#3a3a3a" stroke-width="0.7"/>
<line x1="163.5" y1="205.6" x2="163.5" y2="207.2" stroke="#3a3a3a" stroke-width="0.7"/>
<line x1="166.5" y1="205.6" x2="166.5" y2="207.2" stroke="#3a3a3a" stroke-width="0.7"/>
<line x1="168.8" y1="205.6" x2="168.8" y2="207.2" stroke="#3a3a3a" stroke-width="0.7"/>
<line x1="170.7" y1="205.6" x2="170.7" y2="207.2" stroke="#3a3a3a" stroke-width="0.7"/>
<line x1="172.3" y1="205.6" x2="172.3" y2="207.2" stroke="#3a3a3a" stroke-width="0.7"/>
<line x1="173.7" y1="205.6" x2="173.7" y2="207.2" stroke="#3a3a3a" stroke-width="0.7"/>
<line x1="174.9" y1="205.6" x2="174.9" y2="207.2" stroke="#3a3a3a" stroke-width="0.7"/>
<line x1="176.0" y1="205.6" x2="176.0" y2="208.2" stroke="#3a3a3a" stroke-width="0.7"/>
<line x1="80.2" y1="205.6" x2="77.6" y2="205.6" stroke="#3a3a3a" stroke-width="0.7"/>
<line x1="80.2" y1="200.6" x2="78.6" y2="200.6" stroke="#3a3a3a" stroke-width="0.7"/>
<line x1="80.2" y1="197.7" x2="78.6" y2="197.7" stroke="#3a3a3a" stroke-width="0.7"/>
<line x1="80.2" y1="195.6" x2="78.6" y2="195.6" stroke="#3a3a3a" stroke-width="0.7"/>
<line x1="80.2" y1="194.0" x2="78.6" y2="194.0" stroke="#3a3a3a" stroke-width="0.7"/>
<line x1="80.2" y1="192.6" x2="78.6" y2="192.6" stroke="#3a3a3a" stroke-width="0.7"/>
<line x1="80.2" y1="191.5" x2="78.6" y2="191.5" stroke="#3a3a3a" stroke-width="0.7"/>
<line x1="80.2" y1="190.6" x2="78.6" y2="190.6" stroke="#3a3a3a" stroke-width="0.7"/>
<line x1="80.2" y1="189.7" x2="78.6" y2="189.7" stroke="#3a3a3a" stroke-width="0.7"/>
<line x1="80.2" y1="188.9" x2="77.6" y2="188.9" stroke="#3a3a3a" stroke-width="0.7"/>
<line x1="80.2" y1="183.9" x2="78.6" y2="183.9" stroke="#3a3a3a" stroke-width="0.7"/>
<line x1="80.2" y1="181.0" x2="78.6" y2="181.0" stroke="#3a3a3a" stroke-width="0.7"/>
<line x1="80.2" y1="178.9" x2="78.6" y2="178.9" stroke="#3a3a3a" stroke-width="0.7"/>
<line x1="80.2" y1="177.3" x2="78.6" y2="177.3" stroke="#3a3a3a" stroke-width="0.7"/>
<line x1="80.2" y1="176.0" x2="78.6" y2="176.0" stroke="#3a3a3a" stroke-width="0.7"/>
<line x1="80.2" y1="174.9" x2="78.6" y2="174.9" stroke="#3a3a3a" stroke-width="0.7"/>
<line x1="80.2" y1="173.9" x2="78.6" y2="173.9" stroke="#3a3a3a" stroke-width="0.7"/>
<line x1="80.2" y1="173.1" x2="78.6" y2="173.1" stroke="#3a3a3a" stroke-width="0.7"/>
<line x1="80.2" y1="172.3" x2="77.6" y2="172.3" stroke="#3a3a3a" stroke-width="0.7"/>
<line x1="80.2" y1="167.3" x2="78.6" y2="167.3" stroke="#3a3a3a" stroke-width="0.7"/>
<line x1="80.2" y1="164.4" x2="78.6" y2="164.4" stroke="#3a3a3a" stroke-width="0.7"/>
<line x1="80.2" y1="162.3" x2="78.6" y2="162.3" stroke="#3a3a3a" stroke-width="0.7"/>
<line x1="80.2" y1="160.7" x2="78.6" y2="160.7" stroke="#3a3a3a" stroke-width="0.7"/>
<line x1="80.2" y1="159.3" x2="78.6" y2="159.3" stroke="#3a3a3a" stroke-width="0.7"/>
<line x1="80.2" y1="158.2" x2="78.6" y2="158.2" stroke="#3a3a3a" stroke-width="0.7"/>
<line x1="80.2" y1="157.3" x2="78.6" y2="157.3" stroke="#3a3a3a" stroke-width="0.7"/>
<line x1="80.2" y1="156.4" x2="78.6" y2="156.4" stroke="#3a3a3a" stroke-width="0.7"/>
<line x1="80.2" y1="155.7" x2="77.6" y2="155.7" stroke="#3a3a3a" stroke-width="0.7"/>
<line x1="80.2" y1="150.6" x2="78.6" y2="150.6" stroke="#3a3a3a" stroke-width="0.7"/>
<line x1="80.2" y1="147.7" x2="78.6" y2="147.7" stroke="#3a3a3a" stroke-width="0.7"/>
<line x1="80.2" y1="145.6" x2="78.6" y2="145.6" stroke="#3a3a3a" stroke-width="0.7"/>
<line x1="80.2" y1="144.0" x2="78.6" y2="144.0" stroke="#3a3a3a" stroke-width="0.7"/>
<line x1="80.2" y1="142.7" x2="78.6" y2="142.7" stroke="#3a3a3a" stroke-width="0.7"/>
<line x1="80.2" y1="141.6" x2="78.6" y2="141.6" stroke="#3a3a3a" stroke-width="0.7"/>
<line x1="80.2" y1="140.6" x2="78.6" y2="140.6" stroke="#3a3a3a" stroke-width="0.7"/>
<line x1="80.2" y1="139.8" x2="78.6" y2="139.8" stroke="#3a3a3a" stroke-width="0.7"/>
<line x1="80.2" y1="139.0" x2="77.6" y2="139.0" stroke="#3a3a3a" stroke-width="0.7"/>
<g transform="translate(79.7 217.4) scale(0.85 1)" fill="#111" stroke="#111" stroke-width="0.15"><text x="0" y="0" font-size="8.3" text-anchor="middle">10</text><text x="5.0" y="-3.5" font-size="5.8">0</text></g>
<g transform="translate(74.0 207.2) rotate(-90) scale(0.85 1)" fill="#111" stroke="#111" stroke-width="0.15"><text x="0" y="0" font-size="8.3" text-anchor="middle">10</text><text x="5.0" y="-3.5" font-size="5.8">0</text></g>
<g transform="translate(103.7 217.4) scale(0.85 1)" fill="#111" stroke="#111" stroke-width="0.15"><text x="0" y="0" font-size="8.3" text-anchor="middle">10</text><text x="5.0" y="-3.5" font-size="5.8">1</text></g>
<g transform="translate(74.0 189.2) rotate(-90) scale(0.85 1)" fill="#111" stroke="#111" stroke-width="0.15"><text x="0" y="0" font-size="8.3" text-anchor="middle">10</text><text x="5.0" y="-3.5" font-size="5.8">1</text></g>
<g transform="translate(127.6 217.4) scale(0.85 1)" fill="#111" stroke="#111" stroke-width="0.15"><text x="0" y="0" font-size="8.3" text-anchor="middle">10</text><text x="5.0" y="-3.5" font-size="5.8">2</text></g>
<g transform="translate(74.0 172.6) rotate(-90) scale(0.85 1)" fill="#111" stroke="#111" stroke-width="0.15"><text x="0" y="0" font-size="8.3" text-anchor="middle">10</text><text x="5.0" y="-3.5" font-size="5.8">2</text></g>
<g transform="translate(151.6 217.4) scale(0.85 1)" fill="#111" stroke="#111" stroke-width="0.15"><text x="0" y="0" font-size="8.3" text-anchor="middle">10</text><text x="5.0" y="-3.5" font-size="5.8">3</text></g>
<g transform="translate(74.0 156.0) rotate(-90) scale(0.85 1)" fill="#111" stroke="#111" stroke-width="0.15"><text x="0" y="0" font-size="8.3" text-anchor="middle">10</text><text x="5.0" y="-3.5" font-size="5.8">3</text></g>
<g transform="translate(174.0 217.4) scale(0.85 1)" fill="#111" stroke="#111" stroke-width="0.15"><text x="0" y="0" font-size="8.3" text-anchor="middle">10</text><text x="5.0" y="-3.5" font-size="5.8">4</text></g>
<g transform="translate(74.0 139.3) rotate(-90) scale(0.85 1)" fill="#111" stroke="#111" stroke-width="0.15"><text x="0" y="0" font-size="8.3" text-anchor="middle">10</text><text x="5.0" y="-3.5" font-size="5.8">4</text></g>
<g transform="translate(127.3 223.9) scale(0.87 1)" fill="#111" stroke="#111" stroke-width="0.12"><text x="0" y="0" font-size="7.6" text-anchor="middle">FL1-H</text></g>
<g transform="translate(64.4 172.8) rotate(-90) scale(0.87 1)" fill="#111" stroke="#111" stroke-width="0.12"><text x="0" y="0" font-size="7.6" text-anchor="middle">FL2-H</text></g>
<text x="129.3" y="131.3" font-size="9.4" text-anchor="middle" font-weight="normal" fill="#1c1c1c" stroke="#1c1c1c" stroke-width="0.18">p21-IRS</text>
<line x1="129.2" y1="153.7" x2="172.5" y2="153.7" stroke="#444" stroke-width="0.9"/>
<line x1="152.0" y1="143.0" x2="152.0" y2="166.0" stroke="#444" stroke-width="0.9"/>
<text x="139.8" y="149.4" font-size="6.75" text-anchor="middle" font-weight="normal" fill="#2a2a2a" stroke="#2a2a2a" stroke-width="0.18">89.95</text>
<text x="162.2" y="149.4" font-size="6.75" text-anchor="middle" font-weight="normal" fill="#2a2a2a" stroke="#2a2a2a" stroke-width="0.18">8.15</text>
<text x="137.0" y="162.3" font-size="6.75" text-anchor="middle" font-weight="normal" fill="#2a2a2a" stroke="#2a2a2a" stroke-width="0.18">0.3</text>
<text x="159.3" y="162.3" font-size="6.75" text-anchor="middle" font-weight="normal" fill="#2a2a2a" stroke="#2a2a2a" stroke-width="0.18">1.6</text>
<line x1="251.2" y1="138.5" x2="251.2" y2="205.6" stroke="#333" stroke-width="1"/>
<line x1="216.3" y1="188.3" x2="312.0" y2="188.3" stroke="#333" stroke-width="1"/>
<path d="M229 154.5h1M247 154.5h1M245 155.5h1M226 156.5h1M232 156.5h1M236 156.5h1M246 156.5h1M226 157.5h1M228 157.5h1M232 157.5h1M234 157.5h2M243 157.5h1M245 157.5h1M265 157.5h1M221 158.5h1M227 158.5h1M234 158.5h2M237 158.5h3M242 158.5h1M248 158.5h1M224 159.5h1M226 159.5h1M230 159.5h1M233 159.5h1M235 159.5h1M239 159.5h1M242 159.5h1M226 160.5h1M228 160.5h3M234 160.5h2M245 160.5h1M255 160.5h1M230 161.5h1M235 161.5h1M237 161.5h2M242 161.5h1M249 161.5h2M252 161.5h1M226 162.5h2M230 162.5h1M232 162.5h2M235 162.5h1M237 162.5h3M246 162.5h1M248 162.5h1M252 162.5h1M223 163.5h1M225 163.5h1M227 163.5h1M230 163.5h3M235 163.5h1M237 163.5h1M241 163.5h1M244 163.5h2M250 163.5h1M253 163.5h1M257 163.5h1M227 164.5h4M239 164.5h4M249 164.5h4M260 164.5h1M231 165.5h1M235 165.5h1M237 165.5h2M241 165.5h2M248 165.5h2M253 165.5h1M228 166.5h1M230 166.5h1M232 166.5h1M234 166.5h1M236 166.5h1M240 166.5h2M244 166.5h2M247 166.5h1M249 166.5h1M252 166.5h1M255 166.5h3M228 167.5h1M236 167.5h1M238 167.5h1M241 167.5h1M243 167.5h1M248 167.5h3M253 167.5h1M255 167.5h2M258 167.5h2M262 167.5h1M228 168.5h2M232 168.5h3M236 168.5h3M240 168.5h1M242 168.5h4M247 168.5h3M251 168.5h1M256 168.5h2M262 168.5h1M222 169.5h1M234 169.5h1M238 169.5h2M241 169.5h9M252 169.5h1M254 169.5h1M257 169.5h2M264 169.5h1M234 170.5h1M236 170.5h1M241 170.5h4M246 170.5h2M249 170.5h2M252 170.5h1M254 170.5h1M256 170.5h3M263 170.5h1M231 171.5h1M238 171.5h2M241 171.5h4M246 171.5h4M251 171.5h3M255 171.5h1M260 171.5h1M235 172.5h1M237 172.5h1M239 172.5h4M244 172.5h1M247 172.5h3M252 172.5h1M254 172.5h2M259 172.5h2M263 172.5h1M235 173.5h1M237 173.5h1M242 173.5h2M247 173.5h3M256 173.5h1M268 173.5h1M243 174.5h2M246 174.5h4M251 174.5h1M253 174.5h1M256 174.5h1M260 174.5h1M262 174.5h1M268 174.5h1M235 175.5h1M240 175.5h1M242 175.5h1M244 175.5h8M253 175.5h1M256 175.5h2M260 175.5h1M264 175.5h3M232 176.5h2M238 176.5h3M242 176.5h1M244 176.5h1M252 176.5h2M256 176.5h2M259 176.5h3M232 177.5h1M234 177.5h1M237 177.5h1M243 177.5h1M246 177.5h1M248 177.5h2M252 177.5h1M260 177.5h1M239 178.5h1M241 178.5h1M244 178.5h2M250 178.5h3M254 178.5h2M257 178.5h2M262 178.5h1M265 178.5h1M248 179.5h8M267 179.5h1M234 180.5h1M242 180.5h1M249 180.5h2M253 180.5h2M256 180.5h2M259 180.5h2M248 181.5h1M250 181.5h1M252 181.5h1M256 181.5h1M260 181.5h1M250 182.5h1M254 182.5h2M257 182.5h2M260 182.5h2M264 182.5h2M243 183.5h1M248 183.5h2M251 183.5h1M256 183.5h1M260 183.5h1M245 184.5h1M249 184.5h1M251 184.5h4M257 184.5h2M266 184.5h1M231 185.5h1M248 185.5h1M250 185.5h1M252 185.5h2M255 185.5h2M260 185.5h1M269 185.5h1M241 186.5h1M245 186.5h1M249 186.5h4M256 186.5h1M258 186.5h1M251 187.5h1M253 187.5h2M256 187.5h1M259 187.5h1M263 187.5h1M257 188.5h1M250 189.5h1M252 189.5h3M256 189.5h1M258 189.5h1M262 189.5h1M266 189.5h1M243 190.5h1M247 190.5h2M250 190.5h1M257 190.5h2M260 190.5h1M262 190.5h1M249 191.5h2M257 191.5h1M261 191.5h1M264 191.5h1M247 192.5h1M250 192.5h1M254 192.5h1M260 192.5h2M251 193.5h2M259 193.5h1M261 193.5h1M247 194.5h1M252 194.5h3M257 194.5h2M262 194.5h1M266 194.5h1M250 196.5h3M254 196.5h2M245 197.5h1M252 197.5h1M268 197.5h1M255 198.5h2M260 198.5h2M249 199.5h1M256 199.5h1M255 200.5h1M258 201.5h1M261 202.5h1M251 203.5h1M259 203.5h1M264 203.5h1M249 204.5h1M259 204.5h1M262 204.5h1" stroke="#222" stroke-opacity="0.5" stroke-width="1" fill="none"/>
<path d="M237 152.5h1M246 155.5h1M227 157.5h1M247 157.5h1M231 159.5h1M233 159.5h1M255 159.5h1M231 160.5h2M234 160.5h1M237 160.5h1M240 160.5h2M244 160.5h1M246 160.5h2M250 160.5h1M253 160.5h1M259 160.5h1M230 161.5h3M235 161.5h1M237 161.5h3M242 161.5h6M250 161.5h1M252 161.5h1M254 161.5h1M259 161.5h1M230 162.5h1M233 162.5h2M241 162.5h1M244 162.5h3M248 162.5h3M254 162.5h1M256 162.5h2M231 163.5h1M233 163.5h2M237 163.5h1M239 163.5h2M242 163.5h2M246 163.5h4M252 163.5h4M259 163.5h3M231 164.5h2M234 164.5h2M237 164.5h3M242 164.5h9M252 164.5h1M254 164.5h1M257 164.5h1M228 165.5h1M231 165.5h1M234 165.5h1M236 165.5h1M238 165.5h1M240 165.5h1M242 165.5h1M247 165.5h6M256 165.5h1M259 165.5h1M261 165.5h1M230 166.5h3M235 166.5h13M249 166.5h9M259 166.5h5M237 167.5h1M239 167.5h1M241 167.5h2M244 167.5h7M252 167.5h4M257 167.5h1M261 167.5h1M232 168.5h4M240 168.5h1M243 168.5h4M248 168.5h2M252 168.5h2M255 168.5h2M259 168.5h2M266 168.5h1M224 169.5h1M231 169.5h1M233 169.5h1M235 169.5h2M239 169.5h16M256 169.5h3M260 169.5h4M231 170.5h1M233 170.5h1M235 170.5h3M239 170.5h12M254 170.5h6M261 170.5h3M232 171.5h1M234 171.5h1M236 171.5h2M240 171.5h6M247 171.5h12M260 171.5h1M262 171.5h1M231 172.5h1M233 172.5h3M237 172.5h3M241 172.5h16M258 172.5h3M262 172.5h1M232 173.5h1M234 173.5h1M238 173.5h1M240 173.5h15M256 173.5h1M258 173.5h1M261 173.5h1M263 173.5h1M227 174.5h2M230 174.5h3M236 174.5h1M238 174.5h2M241 174.5h5M247 174.5h17M231 175.5h2M235 175.5h1M237 175.5h1M239 175.5h3M243 175.5h1M245 175.5h12M258 175.5h1M261 175.5h3M230 176.5h2M235 176.5h4M240 176.5h4M246 176.5h1M248 176.5h2M251 176.5h1M253 176.5h1M255 176.5h4M260 176.5h1M262 176.5h1M238 177.5h2M242 177.5h3M249 177.5h2M252 177.5h5M258 177.5h1M260 177.5h3M265 177.5h1M232 178.5h1M235 178.5h6M242 178.5h3M247 178.5h2M250 178.5h2M253 178.5h2M257 178.5h6M231 179.5h1M235 179.5h2M238 179.5h1M240 179.5h1M243 179.5h2M248 179.5h1M250 179.5h6M257 179.5h1M259 179.5h4M233 180.5h1M236 180.5h6M244 180.5h7M252 180.5h2M256 180.5h2M259 180.5h4M267 180.5h1M233 181.5h2M239 181.5h3M243 181.5h1M246 181.5h1M249 181.5h1M251 181.5h4M256 181.5h4M262 181.5h2M231 182.5h2M234 182.5h7M243 182.5h2M247 182.5h1M249 182.5h2M252 182.5h3M256 182.5h7M264 182.5h1M233 183.5h1M237 183.5h2M248 183.5h1M251 183.5h1M253 183.5h1M255 183.5h1M257 183.5h1M259 183.5h2M262 183.5h2M265 183.5h2M232 184.5h4M237 184.5h2M240 184.5h3M247 184.5h1M250 184.5h3M257 184.5h2M260 184.5h3M264 184.5h1M232 185.5h1M234 185.5h9M247 185.5h1M249 185.5h2M252 185.5h3M256 185.5h2M259 185.5h1M261 185.5h1M234 186.5h1M237 186.5h1M239 186.5h3M243 186.5h1M250 186.5h2M253 186.5h1M255 186.5h1M258 186.5h2M261 186.5h1M263 186.5h1M266 186.5h1M236 187.5h4M242 187.5h1M250 187.5h2M256 187.5h4M264 187.5h2M232 188.5h1M235 188.5h1M237 188.5h5M243 188.5h1M249 188.5h1M252 188.5h1M254 188.5h1M256 188.5h1M261 188.5h2M264 188.5h1M232 189.5h1M234 189.5h1M237 189.5h2M240 189.5h2M245 189.5h1M248 189.5h1M250 189.5h1M252 189.5h2M257 189.5h1M260 189.5h1M262 189.5h1M264 189.5h1M269 189.5h1M233 190.5h3M237 190.5h1M239 190.5h2M242 190.5h1M248 190.5h1M250 190.5h1M252 190.5h1M254 190.5h1M257 190.5h2M260 190.5h1M262 190.5h2M239 191.5h3M243 191.5h1M245 191.5h1M248 191.5h1M250 191.5h2M253 191.5h1M257 191.5h3M261 191.5h2M235 192.5h1M237 192.5h1M243 192.5h1M246 192.5h1M250 192.5h1M253 192.5h1M256 192.5h1M258 192.5h3M265 192.5h1M234 193.5h1M242 193.5h1M244 193.5h1M246 193.5h1M249 193.5h4M254 193.5h1M256 193.5h1M258 193.5h5M265 193.5h1M232 194.5h1M234 194.5h1M238 194.5h2M246 194.5h3M251 194.5h5M257 194.5h1M259 194.5h1M241 195.5h1M247 195.5h1M251 195.5h2M254 195.5h3M242 196.5h1M244 196.5h1M247 196.5h2M250 196.5h1M253 196.5h8M245 197.5h1M248 197.5h1M250 197.5h2M253 197.5h9M247 198.5h2M250 198.5h1M252 198.5h6M259 198.5h2M263 198.5h1M247 199.5h15M264 199.5h1M244 200.5h1M251 200.5h10M247 201.5h1M250 201.5h1M252 201.5h8M248 202.5h1M250 202.5h1M252 202.5h7M260 202.5h1M262 202.5h1M249 203.5h2M252 203.5h3M257 203.5h1M260 203.5h1M251 204.5h2M255 204.5h2M258 204.5h1M260 204.5h1M254 205.5h1" stroke="#161616" stroke-opacity="1" stroke-width="1" fill="none"/>
<path d="M244 169.5h1M246 170.5h1M249 170.5h1M242 171.5h3M249 171.5h1M239 172.5h3M244 172.5h6M238 173.5h1M240 173.5h12M255 173.5h1M239 174.5h15M237 175.5h21M235 176.5h1M237 176.5h10M248 176.5h9M259 176.5h1M237 177.5h22M262 177.5h1M236 178.5h1M238 178.5h21M234 179.5h16M251 179.5h4M256 179.5h4M235 180.5h25M233 181.5h1M235 181.5h25M234 182.5h27M235 183.5h28M235 184.5h28M234 185.5h29M234 186.5h28M236 187.5h27M234 188.5h28M236 189.5h26M238 190.5h15M254 190.5h8M239 191.5h15M255 191.5h7M242 192.5h20M243 193.5h19M245 194.5h1M247 194.5h15M248 195.5h13M247 196.5h14M245 197.5h1M248 197.5h13M248 198.5h13M249 199.5h5M255 199.5h5M248 200.5h5M254 200.5h6M249 201.5h11M249 202.5h8M261 202.5h1M251 203.5h6M258 203.5h1M252 204.5h1M254 204.5h2" stroke="#161616" stroke-width="1" fill="none"/>
<rect x="216.3" y="138.5" width="95.7" height="67.1" fill="none" stroke="#4a4a4a" stroke-width="1"/>
<line x1="216.3" y1="138.5" x2="216.3" y2="205.6" stroke="#2a2a2a" stroke-width="1.3"/>
<line x1="216.3" y1="205.6" x2="312.0" y2="205.6" stroke="#2a2a2a" stroke-width="1.2"/>
<line x1="216.3" y1="205.6" x2="216.3" y2="208.2" stroke="#3a3a3a" stroke-width="0.7"/>
<line x1="223.5" y1="205.6" x2="223.5" y2="207.2" stroke="#3a3a3a" stroke-width="0.7"/>
<line x1="227.7" y1="205.6" x2="227.7" y2="207.2" stroke="#3a3a3a" stroke-width="0.7"/>
<line x1="230.7" y1="205.6" x2="230.7" y2="207.2" stroke="#3a3a3a" stroke-width="0.7"/>
<line x1="233.0" y1="205.6" x2="233.0" y2="207.2" stroke="#3a3a3a" stroke-width="0.7"/>
<line x1="234.9" y1="205.6" x2="234.9" y2="207.2" stroke="#3a3a3a" stroke-width="0.7"/>
<line x1="236.5" y1="205.6" x2="236.5" y2="207.2" stroke="#3a3a3a" stroke-width="0.7"/>
<line x1="237.9" y1="205.6" x2="237.9" y2="207.2" stroke="#3a3a3a" stroke-width="0.7"/>
<line x1="239.1" y1="205.6" x2="239.1" y2="207.2" stroke="#3a3a3a" stroke-width="0.7"/>
<line x1="240.2" y1="205.6" x2="240.2" y2="208.2" stroke="#3a3a3a" stroke-width="0.7"/>
<line x1="247.4" y1="205.6" x2="247.4" y2="207.2" stroke="#3a3a3a" stroke-width="0.7"/>
<line x1="251.6" y1="205.6" x2="251.6" y2="207.2" stroke="#3a3a3a" stroke-width="0.7"/>
<line x1="254.6" y1="205.6" x2="254.6" y2="207.2" stroke="#3a3a3a" stroke-width="0.7"/>
<line x1="256.9" y1="205.6" x2="256.9" y2="207.2" stroke="#3a3a3a" stroke-width="0.7"/>
<line x1="258.8" y1="205.6" x2="258.8" y2="207.2" stroke="#3a3a3a" stroke-width="0.7"/>
<line x1="260.4" y1="205.6" x2="260.4" y2="207.2" stroke="#3a3a3a" stroke-width="0.7"/>
<line x1="261.8" y1="205.6" x2="261.8" y2="207.2" stroke="#3a3a3a" stroke-width="0.7"/>
<line x1="263.1" y1="205.6" x2="263.1" y2="207.2" stroke="#3a3a3a" stroke-width="0.7"/>
<line x1="264.1" y1="205.6" x2="264.1" y2="208.2" stroke="#3a3a3a" stroke-width="0.7"/>
<line x1="271.4" y1="205.6" x2="271.4" y2="207.2" stroke="#3a3a3a" stroke-width="0.7"/>
<line x1="275.6" y1="205.6" x2="275.6" y2="207.2" stroke="#3a3a3a" stroke-width="0.7"/>
<line x1="278.6" y1="205.6" x2="278.6" y2="207.2" stroke="#3a3a3a" stroke-width="0.7"/>
<line x1="280.9" y1="205.6" x2="280.9" y2="207.2" stroke="#3a3a3a" stroke-width="0.7"/>
<line x1="282.8" y1="205.6" x2="282.8" y2="207.2" stroke="#3a3a3a" stroke-width="0.7"/>
<line x1="284.4" y1="205.6" x2="284.4" y2="207.2" stroke="#3a3a3a" stroke-width="0.7"/>
<line x1="285.8" y1="205.6" x2="285.8" y2="207.2" stroke="#3a3a3a" stroke-width="0.7"/>
<line x1="287.0" y1="205.6" x2="287.0" y2="207.2" stroke="#3a3a3a" stroke-width="0.7"/>
<line x1="288.1" y1="205.6" x2="288.1" y2="208.2" stroke="#3a3a3a" stroke-width="0.7"/>
<line x1="295.3" y1="205.6" x2="295.3" y2="207.2" stroke="#3a3a3a" stroke-width="0.7"/>
<line x1="299.5" y1="205.6" x2="299.5" y2="207.2" stroke="#3a3a3a" stroke-width="0.7"/>
<line x1="302.5" y1="205.6" x2="302.5" y2="207.2" stroke="#3a3a3a" stroke-width="0.7"/>
<line x1="304.8" y1="205.6" x2="304.8" y2="207.2" stroke="#3a3a3a" stroke-width="0.7"/>
<line x1="306.7" y1="205.6" x2="306.7" y2="207.2" stroke="#3a3a3a" stroke-width="0.7"/>
<line x1="308.3" y1="205.6" x2="308.3" y2="207.2" stroke="#3a3a3a" stroke-width="0.7"/>
<line x1="309.7" y1="205.6" x2="309.7" y2="207.2" stroke="#3a3a3a" stroke-width="0.7"/>
<line x1="310.9" y1="205.6" x2="310.9" y2="207.2" stroke="#3a3a3a" stroke-width="0.7"/>
<line x1="312.0" y1="205.6" x2="312.0" y2="208.2" stroke="#3a3a3a" stroke-width="0.7"/>
<line x1="216.3" y1="205.6" x2="213.7" y2="205.6" stroke="#3a3a3a" stroke-width="0.7"/>
<line x1="216.3" y1="200.6" x2="214.7" y2="200.6" stroke="#3a3a3a" stroke-width="0.7"/>
<line x1="216.3" y1="197.6" x2="214.7" y2="197.6" stroke="#3a3a3a" stroke-width="0.7"/>
<line x1="216.3" y1="195.5" x2="214.7" y2="195.5" stroke="#3a3a3a" stroke-width="0.7"/>
<line x1="216.3" y1="193.9" x2="214.7" y2="193.9" stroke="#3a3a3a" stroke-width="0.7"/>
<line x1="216.3" y1="192.5" x2="214.7" y2="192.5" stroke="#3a3a3a" stroke-width="0.7"/>
<line x1="216.3" y1="191.4" x2="214.7" y2="191.4" stroke="#3a3a3a" stroke-width="0.7"/>
<line x1="216.3" y1="190.5" x2="214.7" y2="190.5" stroke="#3a3a3a" stroke-width="0.7"/>
<line x1="216.3" y1="189.6" x2="214.7" y2="189.6" stroke="#3a3a3a" stroke-width="0.7"/>
<line x1="216.3" y1="188.8" x2="213.7" y2="188.8" stroke="#3a3a3a" stroke-width="0.7"/>
<line x1="216.3" y1="183.8" x2="214.7" y2="183.8" stroke="#3a3a3a" stroke-width="0.7"/>
<line x1="216.3" y1="180.8" x2="214.7" y2="180.8" stroke="#3a3a3a" stroke-width="0.7"/>
<line x1="216.3" y1="178.7" x2="214.7" y2="178.7" stroke="#3a3a3a" stroke-width="0.7"/>
<line x1="216.3" y1="177.1" x2="214.7" y2="177.1" stroke="#3a3a3a" stroke-width="0.7"/>
<line x1="216.3" y1="175.8" x2="214.7" y2="175.8" stroke="#3a3a3a" stroke-width="0.7"/>
<line x1="216.3" y1="174.6" x2="214.7" y2="174.6" stroke="#3a3a3a" stroke-width="0.7"/>
<line x1="216.3" y1="173.7" x2="214.7" y2="173.7" stroke="#3a3a3a" stroke-width="0.7"/>
<line x1="216.3" y1="172.8" x2="214.7" y2="172.8" stroke="#3a3a3a" stroke-width="0.7"/>
<line x1="216.3" y1="172.1" x2="213.7" y2="172.1" stroke="#3a3a3a" stroke-width="0.7"/>
<line x1="216.3" y1="167.0" x2="214.7" y2="167.0" stroke="#3a3a3a" stroke-width="0.7"/>
<line x1="216.3" y1="164.0" x2="214.7" y2="164.0" stroke="#3a3a3a" stroke-width="0.7"/>
<line x1="216.3" y1="162.0" x2="214.7" y2="162.0" stroke="#3a3a3a" stroke-width="0.7"/>
<line x1="216.3" y1="160.3" x2="214.7" y2="160.3" stroke="#3a3a3a" stroke-width="0.7"/>
<line x1="216.3" y1="159.0" x2="214.7" y2="159.0" stroke="#3a3a3a" stroke-width="0.7"/>
<line x1="216.3" y1="157.9" x2="214.7" y2="157.9" stroke="#3a3a3a" stroke-width="0.7"/>
<line x1="216.3" y1="156.9" x2="214.7" y2="156.9" stroke="#3a3a3a" stroke-width="0.7"/>
<line x1="216.3" y1="156.0" x2="214.7" y2="156.0" stroke="#3a3a3a" stroke-width="0.7"/>
<line x1="216.3" y1="155.3" x2="213.7" y2="155.3" stroke="#3a3a3a" stroke-width="0.7"/>
<line x1="216.3" y1="150.2" x2="214.7" y2="150.2" stroke="#3a3a3a" stroke-width="0.7"/>
<line x1="216.3" y1="147.3" x2="214.7" y2="147.3" stroke="#3a3a3a" stroke-width="0.7"/>
<line x1="216.3" y1="145.2" x2="214.7" y2="145.2" stroke="#3a3a3a" stroke-width="0.7"/>
<line x1="216.3" y1="143.5" x2="214.7" y2="143.5" stroke="#3a3a3a" stroke-width="0.7"/>
<line x1="216.3" y1="142.2" x2="214.7" y2="142.2" stroke="#3a3a3a" stroke-width="0.7"/>
<line x1="216.3" y1="141.1" x2="214.7" y2="141.1" stroke="#3a3a3a" stroke-width="0.7"/>
<line x1="216.3" y1="140.1" x2="214.7" y2="140.1" stroke="#3a3a3a" stroke-width="0.7"/>
<line x1="216.3" y1="139.3" x2="214.7" y2="139.3" stroke="#3a3a3a" stroke-width="0.7"/>
<line x1="216.3" y1="138.5" x2="213.7" y2="138.5" stroke="#3a3a3a" stroke-width="0.7"/>
<g transform="translate(215.8 217.4) scale(0.85 1)" fill="#111" stroke="#111" stroke-width="0.15"><text x="0" y="0" font-size="8.3" text-anchor="middle">10</text><text x="5.0" y="-3.5" font-size="5.8">0</text></g>
<g transform="translate(210.1 207.2) rotate(-90) scale(0.85 1)" fill="#111" stroke="#111" stroke-width="0.15"><text x="0" y="0" font-size="8.3" text-anchor="middle">10</text><text x="5.0" y="-3.5" font-size="5.8">0</text></g>
<g transform="translate(239.7 217.4) scale(0.85 1)" fill="#111" stroke="#111" stroke-width="0.15"><text x="0" y="0" font-size="8.3" text-anchor="middle">10</text><text x="5.0" y="-3.5" font-size="5.8">1</text></g>
<g transform="translate(210.1 189.1) rotate(-90) scale(0.85 1)" fill="#111" stroke="#111" stroke-width="0.15"><text x="0" y="0" font-size="8.3" text-anchor="middle">10</text><text x="5.0" y="-3.5" font-size="5.8">1</text></g>
<g transform="translate(263.6 217.4) scale(0.85 1)" fill="#111" stroke="#111" stroke-width="0.15"><text x="0" y="0" font-size="8.3" text-anchor="middle">10</text><text x="5.0" y="-3.5" font-size="5.8">2</text></g>
<g transform="translate(210.1 172.4) rotate(-90) scale(0.85 1)" fill="#111" stroke="#111" stroke-width="0.15"><text x="0" y="0" font-size="8.3" text-anchor="middle">10</text><text x="5.0" y="-3.5" font-size="5.8">2</text></g>
<g transform="translate(287.6 217.4) scale(0.85 1)" fill="#111" stroke="#111" stroke-width="0.15"><text x="0" y="0" font-size="8.3" text-anchor="middle">10</text><text x="5.0" y="-3.5" font-size="5.8">3</text></g>
<g transform="translate(210.1 155.6) rotate(-90) scale(0.85 1)" fill="#111" stroke="#111" stroke-width="0.15"><text x="0" y="0" font-size="8.3" text-anchor="middle">10</text><text x="5.0" y="-3.5" font-size="5.8">3</text></g>
<g transform="translate(310.0 217.4) scale(0.85 1)" fill="#111" stroke="#111" stroke-width="0.15"><text x="0" y="0" font-size="8.3" text-anchor="middle">10</text><text x="5.0" y="-3.5" font-size="5.8">4</text></g>
<g transform="translate(210.1 138.8) rotate(-90) scale(0.85 1)" fill="#111" stroke="#111" stroke-width="0.15"><text x="0" y="0" font-size="8.3" text-anchor="middle">10</text><text x="5.0" y="-3.5" font-size="5.8">4</text></g>
<g transform="translate(263.3 223.9) scale(0.87 1)" fill="#111" stroke="#111" stroke-width="0.12"><text x="0" y="0" font-size="7.6" text-anchor="middle">FL1-H</text></g>
<g transform="translate(200.5 172.6) rotate(-90) scale(0.87 1)" fill="#111" stroke="#111" stroke-width="0.12"><text x="0" y="0" font-size="7.6" text-anchor="middle">FL2-H</text></g>
<text x="267.8" y="130.6" font-size="9.4" text-anchor="middle" font-weight="normal" fill="#1c1c1c" stroke="#1c1c1c" stroke-width="0.18">staurosporine</text>
<line x1="266.3" y1="152.3" x2="308.7" y2="152.3" stroke="#444" stroke-width="0.9"/>
<line x1="287.5" y1="142.0" x2="287.5" y2="165.0" stroke="#444" stroke-width="0.9"/>
<text x="276.1" y="148.0" font-size="6.75" text-anchor="middle" font-weight="normal" fill="#2a2a2a" stroke="#2a2a2a" stroke-width="0.18">63.89</text>
<text x="298.0" y="148.0" font-size="6.75" text-anchor="middle" font-weight="normal" fill="#2a2a2a" stroke="#2a2a2a" stroke-width="0.18">15.18</text>
<text x="276.1" y="160.9" font-size="6.75" text-anchor="middle" font-weight="normal" fill="#2a2a2a" stroke="#2a2a2a" stroke-width="0.18">4.64</text>
<text x="298.0" y="160.9" font-size="6.75" text-anchor="middle" font-weight="normal" fill="#2a2a2a" stroke="#2a2a2a" stroke-width="0.18">16.28</text>
<text x="341.0" y="18.3" font-size="22.5" text-anchor="start" font-weight="bold" fill="#000" stroke="#000" stroke-width="0.5" textLength="16.2" lengthAdjust="spacingAndGlyphs">C</text>
<defs><pattern id="h" width="2.2" height="2.2" patternUnits="userSpaceOnUse" patternTransform="rotate(-45)"><rect width="2.2" height="2.2" fill="#e6e6e6"/><line x1="0" y1="1.1" x2="2.2" y2="1.1" stroke="#555" stroke-width="0.8"/></pattern></defs>
<rect x="372.3" y="0.6" width="126.2" height="107.4" fill="none" stroke="#4a4a4a" stroke-width="1"/>
<text x="369.3" y="111.4" font-size="9.3" text-anchor="end" font-weight="normal" fill="#1c1c1c" stroke="#1c1c1c" stroke-width="0.18">0</text>
<line x1="372.3" y1="88.7" x2="376.8" y2="88.7" stroke="#3a3a3a" stroke-width="0.9"/>
<text x="369.3" y="92.1" font-size="9.3" text-anchor="end" font-weight="normal" fill="#1c1c1c" stroke="#1c1c1c" stroke-width="0.18">5</text>
<line x1="372.3" y1="69.3" x2="376.8" y2="69.3" stroke="#3a3a3a" stroke-width="0.9"/>
<text x="369.3" y="72.7" font-size="9.3" text-anchor="end" font-weight="normal" fill="#1c1c1c" stroke="#1c1c1c" stroke-width="0.18">10</text>
<line x1="372.3" y1="49.9" x2="376.8" y2="49.9" stroke="#3a3a3a" stroke-width="0.9"/>
<text x="369.3" y="53.3" font-size="9.3" text-anchor="end" font-weight="normal" fill="#1c1c1c" stroke="#1c1c1c" stroke-width="0.18">15</text>
<line x1="372.3" y1="30.6" x2="376.8" y2="30.6" stroke="#3a3a3a" stroke-width="0.9"/>
<text x="369.3" y="34.0" font-size="9.3" text-anchor="end" font-weight="normal" fill="#1c1c1c" stroke="#1c1c1c" stroke-width="0.18">20</text>
<line x1="372.3" y1="11.2" x2="376.8" y2="11.2" stroke="#3a3a3a" stroke-width="0.9"/>
<text x="369.3" y="14.7" font-size="9.3" text-anchor="end" font-weight="normal" fill="#1c1c1c" stroke="#1c1c1c" stroke-width="0.18">25</text>
<line x1="389.8" y1="37.0" x2="389.8" y2="47.7" stroke="#3a3a3a" stroke-width="0.9"/>
<line x1="387.2" y1="37.0" x2="392.4" y2="37.0" stroke="#3a3a3a" stroke-width="0.9"/>
<rect x="383.3" y="47.7" width="13.0" height="60.3" fill="#1a1a1a" stroke="#2e2e2e" stroke-width="1"/>
<line x1="403.9" y1="26.3" x2="403.9" y2="37.9" stroke="#3a3a3a" stroke-width="0.9"/>
<line x1="401.3" y1="26.3" x2="406.5" y2="26.3" stroke="#3a3a3a" stroke-width="0.9"/>
<rect x="396.3" y="37.9" width="15.2" height="70.1" fill="#fff" stroke="#2e2e2e" stroke-width="1"/>
<line x1="418.2" y1="97.2" x2="418.2" y2="98.0" stroke="#3a3a3a" stroke-width="0.9"/>
<line x1="416.1" y1="97.2" x2="420.4" y2="97.2" stroke="#3a3a3a" stroke-width="0.9"/>
<rect x="411.5" y="98.0" width="13.5" height="10.0" fill="url(#h)" stroke="#2e2e2e" stroke-width="1"/>
<line x1="453.0" y1="46.0" x2="453.0" y2="56.2" stroke="#3a3a3a" stroke-width="0.9"/>
<line x1="450.4" y1="46.0" x2="455.6" y2="46.0" stroke="#3a3a3a" stroke-width="0.9"/>
<rect x="446.2" y="56.2" width="13.6" height="51.8" fill="#1a1a1a" stroke="#2e2e2e" stroke-width="1"/>
<line x1="467.1" y1="48.0" x2="467.1" y2="53.5" stroke="#3a3a3a" stroke-width="0.9"/>
<line x1="464.5" y1="48.0" x2="469.7" y2="48.0" stroke="#3a3a3a" stroke-width="0.9"/>
<rect x="459.8" y="53.5" width="14.6" height="54.5" fill="#fff" stroke="#2e2e2e" stroke-width="1"/>
<line x1="481.4" y1="100.2" x2="481.4" y2="101.3" stroke="#3a3a3a" stroke-width="0.9"/>
<line x1="479.2" y1="100.2" x2="483.6" y2="100.2" stroke="#3a3a3a" stroke-width="0.9"/>
<rect x="474.4" y="101.3" width="13.9" height="6.7" fill="url(#h)" stroke="#2e2e2e" stroke-width="1"/>
<line x1="372.3" y1="108.0" x2="498.5" y2="108.0" stroke="#3a3a3a" stroke-width="1.1"/>
<text x="403.5" y="119.6" font-size="9.3" text-anchor="middle" font-weight="normal" fill="#1c1c1c" stroke="#1c1c1c" stroke-width="0.18">1hr</text>
<text x="466.7" y="119.6" font-size="9.3" text-anchor="middle" font-weight="normal" fill="#1c1c1c" stroke="#1c1c1c" stroke-width="0.18">3hrs</text>
<text x="354.2" y="58.8" font-size="9.4" text-anchor="middle" font-weight="normal" fill="#1c1c1c" transform="rotate(-90 354.2 58.8)" stroke="#1c1c1c" stroke-width="0.18">ATP/µg protein</text>
<rect x="445.0" y="7.3" width="6.8" height="6.8" fill="#1a1a1a" stroke="#222" stroke-width="1"/>
<rect x="445.0" y="19.2" width="6.8" height="6.8" fill="#fff" stroke="#222" stroke-width="1"/>
<rect x="445.0" y="31.7" width="6.8" height="6.8" fill="url(#h)" stroke="#444" stroke-width="0.8"/>
<text x="454.6" y="13.3" font-size="9.3" text-anchor="start" font-weight="normal" fill="#1c1c1c" stroke="#1c1c1c" stroke-width="0.18">medium</text>
<text x="454.6" y="26.0" font-size="9.3" text-anchor="start" font-weight="normal" fill="#1c1c1c" stroke="#1c1c1c" stroke-width="0.18">p21-IRS</text>
<text x="454.6" y="38.2" font-size="9.3" text-anchor="start" font-weight="normal" fill="#1c1c1c" stroke="#1c1c1c" stroke-width="0.18">rotenone</text>
<text x="120.0" y="280.6" font-size="22.5" text-anchor="start" font-weight="bold" fill="#000" stroke="#000" stroke-width="0.5" textLength="15.4" lengthAdjust="spacingAndGlyphs">D</text>
<rect x="166.2" y="264.8" width="150.3" height="107.8" fill="none" stroke="#4a4a4a" stroke-width="1"/>
<text x="163.2" y="375.9" font-size="9.3" text-anchor="end" font-weight="normal" fill="#1c1c1c" stroke="#1c1c1c" stroke-width="0.18">0</text>
<line x1="166.2" y1="351.0" x2="171.0" y2="351.0" stroke="#3a3a3a" stroke-width="0.9"/>
<text x="163.2" y="354.3" font-size="9.3" text-anchor="end" font-weight="normal" fill="#1c1c1c" stroke="#1c1c1c" stroke-width="0.18">20</text>
<line x1="166.2" y1="329.5" x2="171.0" y2="329.5" stroke="#3a3a3a" stroke-width="0.9"/>
<text x="163.2" y="332.8" font-size="9.3" text-anchor="end" font-weight="normal" fill="#1c1c1c" stroke="#1c1c1c" stroke-width="0.18">40</text>
<line x1="166.2" y1="307.9" x2="171.0" y2="307.9" stroke="#3a3a3a" stroke-width="0.9"/>
<text x="163.2" y="311.2" font-size="9.3" text-anchor="end" font-weight="normal" fill="#1c1c1c" stroke="#1c1c1c" stroke-width="0.18">60</text>
<line x1="166.2" y1="286.4" x2="171.0" y2="286.4" stroke="#3a3a3a" stroke-width="0.9"/>
<text x="163.2" y="289.7" font-size="9.3" text-anchor="end" font-weight="normal" fill="#1c1c1c" stroke="#1c1c1c" stroke-width="0.18">80</text>
<text x="163.2" y="268.1" font-size="9.3" text-anchor="end" font-weight="normal" fill="#1c1c1c" stroke="#1c1c1c" stroke-width="0.18">100</text>
<rect x="171.0" y="371.2" width="9.8" height="1.4" fill="#fff" stroke="#2e2e2e" stroke-width="1"/>
<line x1="185.8" y1="368.3" x2="185.8" y2="369.6" stroke="#3a3a3a" stroke-width="0.9"/>
<line x1="183.6" y1="368.3" x2="188.0" y2="368.3" stroke="#3a3a3a" stroke-width="0.9"/>
<rect x="180.8" y="369.6" width="10.0" height="3.0" fill="#1a1a1a" stroke="#2e2e2e" stroke-width="1"/>
<line x1="215.7" y1="321.3" x2="215.7" y2="323.5" stroke="#3a3a3a" stroke-width="0.9"/>
<line x1="213.3" y1="321.3" x2="218.1" y2="321.3" stroke="#3a3a3a" stroke-width="0.9"/>
<rect x="211.0" y="323.5" width="9.4" height="49.1" fill="#fff" stroke="#2e2e2e" stroke-width="1"/>
<line x1="225.7" y1="326.0" x2="225.7" y2="331.5" stroke="#3a3a3a" stroke-width="0.9"/>
<line x1="223.3" y1="326.0" x2="228.1" y2="326.0" stroke="#3a3a3a" stroke-width="0.9"/>
<rect x="220.4" y="331.5" width="10.6" height="41.1" fill="#1a1a1a" stroke="#2e2e2e" stroke-width="1"/>
<line x1="257.0" y1="265.8" x2="257.0" y2="272.3" stroke="#3a3a3a" stroke-width="0.9"/>
<line x1="254.6" y1="265.8" x2="259.4" y2="265.8" stroke="#3a3a3a" stroke-width="0.9"/>
<rect x="252.0" y="272.3" width="10.0" height="100.3" fill="#fff" stroke="#2e2e2e" stroke-width="1"/>
<line x1="266.6" y1="343.4" x2="266.6" y2="347.0" stroke="#3a3a3a" stroke-width="0.9"/>
<line x1="264.2" y1="343.4" x2="269.0" y2="343.4" stroke="#3a3a3a" stroke-width="0.9"/>
<rect x="262.0" y="347.0" width="9.3" height="25.6" fill="#1a1a1a" stroke="#2e2e2e" stroke-width="1"/>
<line x1="296.6" y1="288.5" x2="296.6" y2="295.2" stroke="#3a3a3a" stroke-width="0.9"/>
<line x1="294.2" y1="288.5" x2="299.0" y2="288.5" stroke="#3a3a3a" stroke-width="0.9"/>
<rect x="291.5" y="295.2" width="10.2" height="77.4" fill="#fff" stroke="#2e2e2e" stroke-width="1"/>
<rect x="301.7" y="359.8" width="9.3" height="12.8" fill="#1a1a1a" stroke="#2e2e2e" stroke-width="1"/>
<line x1="166.2" y1="372.6" x2="316.5" y2="372.6" stroke="#3a3a3a" stroke-width="1.1"/>
<text x="181.2" y="384.6" font-size="9.3" text-anchor="middle" font-weight="normal" fill="#1c1c1c" stroke="#1c1c1c" stroke-width="0.18">medium</text>
<text x="221.6" y="384.6" font-size="9.3" text-anchor="middle" font-weight="normal" fill="#1c1c1c" stroke="#1c1c1c" stroke-width="0.18">p21-IRS</text>
<text x="262.4" y="384.3" font-size="9.3" text-anchor="middle" font-weight="normal" fill="#1c1c1c" stroke="#1c1c1c" stroke-width="0.18">stauro-</text>
<text x="263.5" y="392.6" font-size="9.3" text-anchor="middle" font-weight="normal" fill="#1c1c1c" stroke="#1c1c1c" stroke-width="0.18">sporine</text>
<text x="299.5" y="384.6" font-size="9.3" text-anchor="middle" font-weight="normal" fill="#1c1c1c" stroke="#1c1c1c" stroke-width="0.18">CH-11</text>
<text x="147.0" y="314.7" font-size="9.4" text-anchor="middle" font-weight="normal" fill="#1c1c1c" transform="rotate(-90 147.0 314.7)" stroke="#1c1c1c" stroke-width="0.18">% apoptotic cells</text>
<rect x="175.4" y="287.0" width="7.2" height="7.0" fill="#fff" stroke="#222" stroke-width="1"/>
<rect x="175.4" y="297.7" width="7.2" height="7.1" fill="#1a1a1a" stroke="#222" stroke-width="1"/>
<text x="185.6" y="293.9" font-size="9.3" text-anchor="start" font-weight="normal" fill="#1c1c1c" stroke="#1c1c1c" stroke-width="0.18">vector</text>
<text x="185.6" y="304.6" font-size="9.3" text-anchor="start" font-weight="normal" fill="#1c1c1c" stroke="#1c1c1c" stroke-width="0.18">Bcl-2</text>
<text x="331.0" y="280.6" font-size="23.5" text-anchor="start" font-weight="bold" fill="#000" stroke="#000" stroke-width="0.5" textLength="14" lengthAdjust="spacingAndGlyphs">E</text>
<rect x="359.8" y="265.0" width="159.5" height="103.6" fill="none" stroke="#4a4a4a" stroke-width="1"/>
<text x="356.8" y="371.9" font-size="9.3" text-anchor="end" font-weight="normal" fill="#1c1c1c" stroke="#1c1c1c" stroke-width="0.18">0</text>
<line x1="359.8" y1="357.1" x2="362.8" y2="357.1" stroke="#3a3a3a" stroke-width="0.9"/>
<line x1="359.8" y1="345.6" x2="364.8" y2="345.6" stroke="#3a3a3a" stroke-width="0.9"/>
<text x="356.8" y="348.9" font-size="9.3" text-anchor="end" font-weight="normal" fill="#1c1c1c" stroke="#1c1c1c" stroke-width="0.18">20</text>
<line x1="359.8" y1="334.0" x2="362.8" y2="334.0" stroke="#3a3a3a" stroke-width="0.9"/>
<line x1="359.8" y1="322.5" x2="364.8" y2="322.5" stroke="#3a3a3a" stroke-width="0.9"/>
<text x="356.8" y="325.8" font-size="9.3" text-anchor="end" font-weight="normal" fill="#1c1c1c" stroke="#1c1c1c" stroke-width="0.18">40</text>
<line x1="359.8" y1="311.0" x2="362.8" y2="311.0" stroke="#3a3a3a" stroke-width="0.9"/>
<line x1="359.8" y1="299.5" x2="364.8" y2="299.5" stroke="#3a3a3a" stroke-width="0.9"/>
<text x="356.8" y="302.8" font-size="9.3" text-anchor="end" font-weight="normal" fill="#1c1c1c" stroke="#1c1c1c" stroke-width="0.18">60</text>
<line x1="359.8" y1="287.9" x2="362.8" y2="287.9" stroke="#3a3a3a" stroke-width="0.9"/>
<line x1="359.8" y1="276.4" x2="364.8" y2="276.4" stroke="#3a3a3a" stroke-width="0.9"/>
<text x="356.8" y="279.7" font-size="9.3" text-anchor="end" font-weight="normal" fill="#1c1c1c" stroke="#1c1c1c" stroke-width="0.18">80</text>
<rect x="367.0" y="367.3" width="14.5" height="1.3" fill="#fff" stroke="#2e2e2e" stroke-width="1"/>
<rect x="381.5" y="367.3" width="14.5" height="1.3" fill="#1a1a1a" stroke="#2e2e2e" stroke-width="1"/>
<line x1="412.9" y1="323.3" x2="412.9" y2="324.3" stroke="#3a3a3a" stroke-width="0.9"/>
<line x1="410.7" y1="323.3" x2="415.1" y2="323.3" stroke="#3a3a3a" stroke-width="0.9"/>
<rect x="405.8" y="324.3" width="14.2" height="44.3" fill="#fff" stroke="#2e2e2e" stroke-width="1"/>
<line x1="427.1" y1="317.0" x2="427.1" y2="318.0" stroke="#3a3a3a" stroke-width="0.9"/>
<line x1="424.9" y1="317.0" x2="429.3" y2="317.0" stroke="#3a3a3a" stroke-width="0.9"/>
<rect x="420.0" y="318.0" width="14.2" height="50.6" fill="#1a1a1a" stroke="#2e2e2e" stroke-width="1"/>
<line x1="452.6" y1="280.0" x2="452.6" y2="284.6" stroke="#3a3a3a" stroke-width="0.9"/>
<line x1="449.9" y1="280.0" x2="455.2" y2="280.0" stroke="#3a3a3a" stroke-width="0.9"/>
<rect x="445.5" y="284.6" width="14.1" height="84.0" fill="#fff" stroke="#2e2e2e" stroke-width="1"/>
<line x1="466.5" y1="354.3" x2="466.5" y2="355.7" stroke="#3a3a3a" stroke-width="0.9"/>
<line x1="464.3" y1="354.3" x2="468.7" y2="354.3" stroke="#3a3a3a" stroke-width="0.9"/>
<rect x="459.6" y="355.7" width="13.8" height="12.9" fill="#1a1a1a" stroke="#2e2e2e" stroke-width="1"/>
<line x1="493.7" y1="274.2" x2="493.7" y2="279.5" stroke="#3a3a3a" stroke-width="0.9"/>
<line x1="491.1" y1="274.2" x2="496.3" y2="274.2" stroke="#3a3a3a" stroke-width="0.9"/>
<rect x="486.5" y="279.5" width="14.4" height="89.1" fill="#fff" stroke="#2e2e2e" stroke-width="1"/>
<rect x="500.9" y="367.5" width="13.8" height="1.1" fill="#1a1a1a" stroke="#2e2e2e" stroke-width="1"/>
<line x1="359.8" y1="368.6" x2="519.3" y2="368.6" stroke="#3a3a3a" stroke-width="1.1"/>
<text x="379.7" y="382.3" font-size="9.3" text-anchor="middle" font-weight="normal" fill="#1c1c1c" stroke="#1c1c1c" stroke-width="0.18">medium</text>
<text x="420.5" y="382.3" font-size="9.3" text-anchor="middle" font-weight="normal" fill="#1c1c1c" stroke="#1c1c1c" stroke-width="0.18">p21-IRS</text>
<text x="458.3" y="382.3" font-size="9.3" text-anchor="middle" font-weight="normal" fill="#1c1c1c" stroke="#1c1c1c" stroke-width="0.18">stauro-</text>
<text x="459.5" y="391.0" font-size="9.3" text-anchor="middle" font-weight="normal" fill="#1c1c1c" stroke="#1c1c1c" stroke-width="0.18">sporine</text>
<text x="502.3" y="382.3" font-size="9.3" text-anchor="middle" font-weight="normal" fill="#1c1c1c" stroke="#1c1c1c" stroke-width="0.18">CH-11</text>
<rect x="372.0" y="289.4" width="7.2" height="6.8" fill="#fff" stroke="#222" stroke-width="1"/>
<rect x="372.0" y="301.0" width="7.2" height="6.8" fill="#1a1a1a" stroke="#222" stroke-width="1"/>
<text x="383.5" y="295.6" font-size="9.3" text-anchor="start" font-weight="normal" fill="#1c1c1c" stroke="#1c1c1c" stroke-width="0.18">medium</text>
<text x="382.0" y="307.8" font-size="9.3" text-anchor="start" font-weight="normal" fill="#1c1c1c" stroke="#1c1c1c" stroke-width="0.18">Z-VAD</text>
</svg>
</body></html>
